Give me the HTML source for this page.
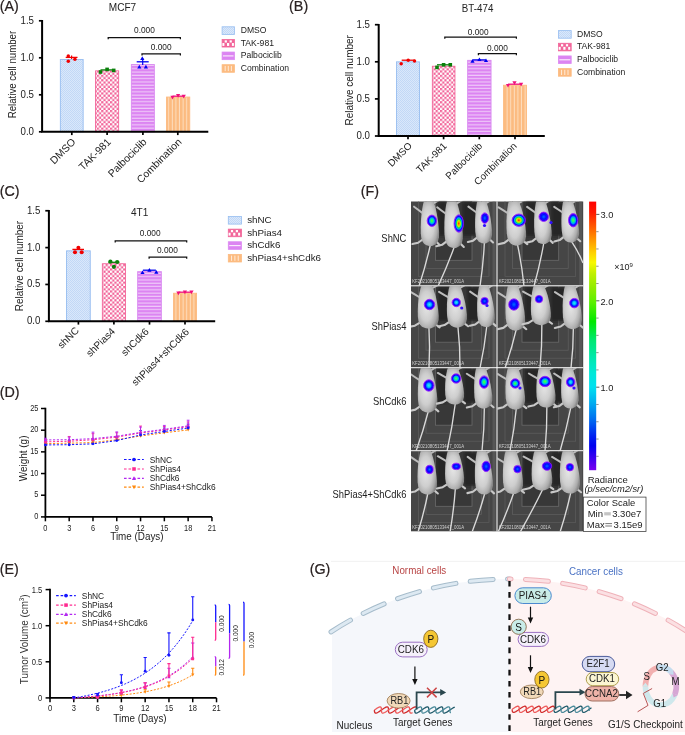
<!DOCTYPE html>
<html><head><meta charset="utf-8"><style>html,body{margin:0;padding:0;background:#fff;width:685px;height:735px;overflow:hidden}svg{display:block;will-change:transform}</style></head><body>
<svg width="685" height="735" viewBox="0 0 685 735" font-family='"Liberation Sans", sans-serif'>

<defs>
<pattern id="pD" width="2" height="2" patternUnits="userSpaceOnUse">
  <rect width="2" height="2" fill="#dae8fb"/><rect width="1" height="1" fill="#c2d8f6"/><rect x="1" y="1" width="1" height="1" fill="#c2d8f6"/>
</pattern>
<pattern id="pT" width="4.4" height="4.4" patternUnits="userSpaceOnUse">
  <rect width="4.4" height="4.4" fill="#fff"/><rect width="2.2" height="2.2" fill="#f2669a"/><rect x="2.2" y="2.2" width="2.2" height="2.2" fill="#f2669a"/>
</pattern>
<pattern id="pP" width="4" height="3.3" patternUnits="userSpaceOnUse">
  <rect width="4" height="3.3" fill="#dc84f2"/><rect y="2.2" width="4" height="1" fill="#f2d4fa"/>
</pattern>
<pattern id="pC" width="3.6" height="4" patternUnits="userSpaceOnUse">
  <rect width="3.6" height="4" fill="#fcbb80"/><rect x="2.6" width="0.9" height="4" fill="#fee2c6"/>
</pattern>
<linearGradient id="cbar" x1="0" y1="0" x2="0" y2="1">
  <stop offset="0" stop-color="#ff0000"/>
  <stop offset="0.039" stop-color="#ff1800"/>
  <stop offset="0.086" stop-color="#ff5000"/>
  <stop offset="0.145" stop-color="#ff9a00"/>
  <stop offset="0.19" stop-color="#ffd000"/>
  <stop offset="0.227" stop-color="#f8f800"/>
  <stop offset="0.268" stop-color="#c0f000"/>
  <stop offset="0.322" stop-color="#90ec00"/>
  <stop offset="0.37" stop-color="#60f000"/>
  <stop offset="0.447" stop-color="#00e800"/>
  <stop offset="0.515" stop-color="#00e870"/>
  <stop offset="0.584" stop-color="#00e8b0"/>
  <stop offset="0.638" stop-color="#00e8d8"/>
  <stop offset="0.691" stop-color="#00e0f0"/>
  <stop offset="0.746" stop-color="#00b0f0"/>
  <stop offset="0.808" stop-color="#0070f0"/>
  <stop offset="0.873" stop-color="#0020f0"/>
  <stop offset="0.909" stop-color="#0000f0"/>
  <stop offset="0.97" stop-color="#5000f0"/>
  <stop offset="1" stop-color="#7a00f0"/>
</linearGradient>
<radialGradient id="blobg">
  <stop offset="0" stop-color="#60ff20"/>
  <stop offset="0.3" stop-color="#00f0a0"/>
  <stop offset="0.5" stop-color="#00a0ff"/>
  <stop offset="0.72" stop-color="#0010ff"/>
  <stop offset="0.9" stop-color="#5000ff"/>
  <stop offset="1" stop-color="#7a00ff" stop-opacity="0.85"/>
</radialGradient>
<radialGradient id="blobc">
  <stop offset="0" stop-color="#30f0e0"/>
  <stop offset="0.35" stop-color="#00b8ff"/>
  <stop offset="0.65" stop-color="#0010ff"/>
  <stop offset="0.88" stop-color="#4000ff"/>
  <stop offset="1" stop-color="#7a00ff" stop-opacity="0.85"/>
</radialGradient>
<radialGradient id="blobb">
  <stop offset="0" stop-color="#0070ff"/>
  <stop offset="0.5" stop-color="#0010ff"/>
  <stop offset="0.85" stop-color="#3000ff"/>
  <stop offset="1" stop-color="#7000ff" stop-opacity="0.85"/>
</radialGradient>
<radialGradient id="blobr">
  <stop offset="0" stop-color="#ff1000"/>
  <stop offset="0.18" stop-color="#ffa000"/>
  <stop offset="0.35" stop-color="#c0f000"/>
  <stop offset="0.5" stop-color="#00e060"/>
  <stop offset="0.65" stop-color="#00a0ff"/>
  <stop offset="0.8" stop-color="#0010ff"/>
  <stop offset="1" stop-color="#7000ff" stop-opacity="0.85"/>
</radialGradient>
<radialGradient id="mouseg" cx="0.42" cy="0.5" r="0.6">
  <stop offset="0" stop-color="#e6e6e6"/>
  <stop offset="0.55" stop-color="#cecece"/>
  <stop offset="0.85" stop-color="#ababab"/>
  <stop offset="1" stop-color="#8a8a8a"/>
</radialGradient>
<filter id="soft" x="-20%" y="-20%" width="140%" height="140%"><feGaussianBlur stdDeviation="0.6"/></filter>
<filter id="soft2" x="-20%" y="-20%" width="140%" height="140%"><feGaussianBlur stdDeviation="0.8"/></filter>
</defs>

<rect width="685" height="735" fill="#fff"/>
<text transform="translate(-0.3,10.7) scale(0.96,1)" font-size="14.9" text-anchor="start" fill="#2a2222" stroke="#2a2222" stroke-width="0.22">(A)</text>
<text transform="translate(289.1,10.6) scale(0.96,1)" font-size="14.9" text-anchor="start" fill="#2a2222" stroke="#2a2222" stroke-width="0.22">(B)</text>
<text transform="translate(-0.3,195.5) scale(0.96,1)" font-size="14.9" text-anchor="start" fill="#2a2222" stroke="#2a2222" stroke-width="0.22">(C)</text>
<text transform="translate(-0.3,397.4) scale(0.96,1)" font-size="14.9" text-anchor="start" fill="#2a2222" stroke="#2a2222" stroke-width="0.22">(D)</text>
<text transform="translate(-0.3,573.8) scale(0.96,1)" font-size="14.9" text-anchor="start" fill="#2a2222" stroke="#2a2222" stroke-width="0.22">(E)</text>
<text transform="translate(360.85,195.7) scale(0.96,1)" font-size="14.9" text-anchor="start" fill="#2a2222" stroke="#2a2222" stroke-width="0.22">(F)</text>
<text transform="translate(309.7,573.7) scale(0.96,1)" font-size="14.9" text-anchor="start" fill="#2a2222" stroke="#2a2222" stroke-width="0.22">(G)</text>
<rect x="60.35" y="59.45" width="22.80" height="72.35" fill="url(#pD)" stroke="#96bdf0" stroke-width="0.9"/>
<rect x="95.55" y="70.85" width="23.10" height="60.95" fill="url(#pT)" stroke="#f2669a" stroke-width="0.9"/>
<rect x="131.35" y="64.55" width="23.00" height="67.25" fill="url(#pP)" stroke="#d98af0" stroke-width="0.9"/>
<rect x="166.55" y="97.05" width="23.20" height="34.75" fill="url(#pC)" stroke="#fcbb80" stroke-width="0.9"/>
<path d="M42.1 20.00V131.8H208.3" fill="none" stroke="#000" stroke-width="2"/>
<line x1="38.9" y1="131.80" x2="42.1" y2="131.80" stroke="#000" stroke-width="1.7"/>
<text transform="translate(34.0,134.7) scale(0.915,1)" font-size="10.6" text-anchor="end" fill="#222" >0.0</text>
<line x1="38.9" y1="94.80" x2="42.1" y2="94.80" stroke="#000" stroke-width="1.7"/>
<text transform="translate(34.0,97.7) scale(0.915,1)" font-size="10.6" text-anchor="end" fill="#222" >0.5</text>
<line x1="38.9" y1="57.80" x2="42.1" y2="57.80" stroke="#000" stroke-width="1.7"/>
<text transform="translate(34.0,60.7) scale(0.915,1)" font-size="10.6" text-anchor="end" fill="#222" >1.0</text>
<line x1="38.9" y1="20.80" x2="42.1" y2="20.80" stroke="#000" stroke-width="1.7"/>
<text transform="translate(34.0,23.7) scale(0.915,1)" font-size="10.6" text-anchor="end" fill="#222" >1.5</text>
<line x1="71.8" y1="131.8" x2="71.8" y2="135.10000000000002" stroke="#000" stroke-width="1.7"/>
<line x1="107.1" y1="131.8" x2="107.1" y2="135.10000000000002" stroke="#000" stroke-width="1.7"/>
<line x1="142.9" y1="131.8" x2="142.9" y2="135.10000000000002" stroke="#000" stroke-width="1.7"/>
<line x1="177.8" y1="131.8" x2="177.8" y2="135.10000000000002" stroke="#000" stroke-width="1.7"/>
<text transform="translate(15.8,74.55) rotate(-90) scale(0.92,1)" font-size="10.5" text-anchor="middle" fill="#222" >Relative cell number</text>
<text transform="translate(122.45,10.8) scale(0.9,1)" font-size="11.2" text-anchor="middle" fill="#222" >MCF7</text>
<path d="M108.2 39.2V37.6H180.4V39.2" fill="none" stroke="#111" stroke-width="1.25"/>
<text transform="translate(144.45,32.7) scale(0.85,1)" font-size="9.8" text-anchor="middle" fill="#222" >0.000</text>
<path d="M142 55.4V53.8H180.4V55.4" fill="none" stroke="#111" stroke-width="1.25"/>
<text transform="translate(161.2,50.0) scale(0.85,1)" font-size="9.8" text-anchor="middle" fill="#222" >0.000</text>
<text transform="translate(76.3,142.6) rotate(-45)" font-size="10.4" text-anchor="end" fill="#222" >DMSO</text>
<text transform="translate(111.5,142.6) rotate(-45)" font-size="10.4" text-anchor="end" fill="#222" >TAK-981</text>
<text transform="translate(147.3,142.6) rotate(-45)" font-size="10.4" text-anchor="end" fill="#222" >Palbociclib</text>
<text transform="translate(182.3,142.6) rotate(-45)" font-size="10.4" text-anchor="end" fill="#222" >Combination</text>
<line x1="71.6" y1="55.5" x2="71.6" y2="59" stroke="#f00000" stroke-width="1.2"/>
<line x1="65.69999999999999" y1="57.4" x2="77.5" y2="57.4" stroke="#f00000" stroke-width="1.3"/>
<circle cx="68.3" cy="56.1" r="1.75" fill="#f00000"/>
<circle cx="68.3" cy="61.2" r="1.75" fill="#f00000"/>
<circle cx="74.9" cy="59.2" r="1.75" fill="#f00000"/>
<line x1="100.5" y1="69.9" x2="113.69999999999999" y2="69.9" stroke="#0a800a" stroke-width="1.3"/>
<rect x="98.70" y="70.20" width="3.60" height="3.60" fill="#0a800a"/>
<rect x="105.30" y="67.60" width="3.60" height="3.60" fill="#0a800a"/>
<rect x="111.90" y="68.60" width="3.60" height="3.60" fill="#0a800a"/>
<line x1="142.7" y1="58" x2="142.7" y2="65" stroke="#0000f0" stroke-width="1.2"/>
<line x1="136.7" y1="61.8" x2="148.7" y2="61.8" stroke="#0000f0" stroke-width="1.3"/>
<path d="M139.3 64.80L141.40 68.48H137.20Z" fill="#0000f0"/>
<path d="M145.9 64.80L148.00 68.48H143.80Z" fill="#0000f0"/>
<path d="M142.3 56.30L144.40 59.98H140.20Z" fill="#0000f0"/>
<line x1="172.5" y1="96.2" x2="183.7" y2="96.2" stroke="#f0107a" stroke-width="1.3"/>
<path d="M172.5 99.40L174.60 95.72H170.40Z" fill="#f0107a"/>
<path d="M178.1 97.80L180.20 94.12H176.00Z" fill="#f0107a"/>
<path d="M183.7 98.40L185.80 94.72H181.60Z" fill="#f0107a"/>
<rect x="222.1" y="26.799999999999997" width="12.299999999999999" height="7.6000000000000005" fill="url(#pD)" stroke="#96bdf0" stroke-width="0.8"/>
<text x="240.7" y="33.2" font-size="8.6" text-anchor="start" fill="#222" >DMSO</text>
<rect x="222.1" y="39.43" width="12.299999999999999" height="7.6000000000000005" fill="#f2669a" stroke="#f2669a" stroke-width="0.8"/>
<rect x="224.70" y="40.33" width="2.20" height="2.20" fill="#fff"/>
<rect x="229.60" y="40.33" width="2.20" height="2.20" fill="#fff"/>
<rect x="222.40" y="43.03" width="2.00" height="2.90" fill="#fff"/>
<rect x="227.00" y="43.03" width="2.20" height="2.90" fill="#fff"/>
<rect x="231.90" y="43.03" width="2.00" height="2.90" fill="#fff"/>
<text x="240.7" y="45.83" font-size="8.6" text-anchor="start" fill="#222" >TAK-981</text>
<rect x="222.1" y="52.059999999999995" width="12.299999999999999" height="7.6000000000000005" fill="#dc84f2" stroke="#dc8af2" stroke-width="0.8"/>
<rect x="223.0" y="55.36" width="10.50" height="1.1" fill="#fbf0fd"/>
<text x="240.7" y="58.46" font-size="8.6" text-anchor="start" fill="#222" >Palbociclib</text>
<rect x="222.1" y="64.69" width="12.299999999999999" height="7.6000000000000005" fill="#fcbb80" stroke="#fcbb80" stroke-width="0.8"/>
<rect x="224.72" y="65.89" width="0.9" height="5.20" fill="#fff0e2"/>
<rect x="227.80" y="65.89" width="0.9" height="5.20" fill="#fff0e2"/>
<rect x="230.88" y="65.89" width="0.9" height="5.20" fill="#fff0e2"/>
<text x="240.7" y="71.09" font-size="8.6" text-anchor="start" fill="#222" >Combination</text>
<rect x="396.55" y="61.85" width="22.90" height="74.15" fill="url(#pD)" stroke="#96bdf0" stroke-width="0.9"/>
<rect x="432.35" y="66.25" width="22.60" height="69.75" fill="url(#pT)" stroke="#f2669a" stroke-width="0.9"/>
<rect x="467.65" y="60.35" width="23.40" height="75.65" fill="url(#pP)" stroke="#d98af0" stroke-width="0.9"/>
<rect x="503.55" y="85.25" width="23.00" height="50.75" fill="url(#pC)" stroke="#fcbb80" stroke-width="0.9"/>
<path d="M378.7 23.90V136.0H544.8" fill="none" stroke="#000" stroke-width="2"/>
<line x1="374.9" y1="136.00" x2="378.7" y2="136.00" stroke="#000" stroke-width="1.7"/>
<text transform="translate(370.0,138.9) scale(0.915,1)" font-size="10.6" text-anchor="end" fill="#222" >0.0</text>
<line x1="374.9" y1="98.90" x2="378.7" y2="98.90" stroke="#000" stroke-width="1.7"/>
<text transform="translate(370.0,101.8) scale(0.915,1)" font-size="10.6" text-anchor="end" fill="#222" >0.5</text>
<line x1="374.9" y1="61.80" x2="378.7" y2="61.80" stroke="#000" stroke-width="1.7"/>
<text transform="translate(370.0,64.7) scale(0.915,1)" font-size="10.6" text-anchor="end" fill="#222" >1.0</text>
<line x1="374.9" y1="24.70" x2="378.7" y2="24.70" stroke="#000" stroke-width="1.7"/>
<text transform="translate(370.0,27.6) scale(0.915,1)" font-size="10.6" text-anchor="end" fill="#222" >1.5</text>
<line x1="408" y1="136.0" x2="408" y2="139.3" stroke="#000" stroke-width="1.7"/>
<line x1="443.6" y1="136.0" x2="443.6" y2="139.3" stroke="#000" stroke-width="1.7"/>
<line x1="479.3" y1="136.0" x2="479.3" y2="139.3" stroke="#000" stroke-width="1.7"/>
<line x1="515.0" y1="136.0" x2="515.0" y2="139.3" stroke="#000" stroke-width="1.7"/>
<text transform="translate(353.3,80.3) rotate(-90) scale(0.95,1)" font-size="10.5" text-anchor="middle" fill="#222" >Relative cell number</text>
<text transform="translate(477.6,12.4) scale(0.95,1)" font-size="10.3" text-anchor="middle" fill="#222" >BT-474</text>
<path d="M444.8 38.7V37.1H516.4V38.7" fill="none" stroke="#111" stroke-width="1.25"/>
<text transform="translate(478.2,34.6) scale(0.85,1)" font-size="9.8" text-anchor="middle" fill="#222" >0.000</text>
<path d="M478.4 55.300000000000004V53.7H516.4V55.300000000000004" fill="none" stroke="#111" stroke-width="1.25"/>
<text transform="translate(497.4,51.2) scale(0.85,1)" font-size="9.8" text-anchor="middle" fill="#222" >0.000</text>
<text transform="translate(412.6,146.4) rotate(-45)" font-size="9.9" text-anchor="end" fill="#222" >DMSO</text>
<text transform="translate(447.3,146.5) rotate(-45)" font-size="9.9" text-anchor="end" fill="#222" >TAK-981</text>
<text transform="translate(483,146.5) rotate(-45)" font-size="9.9" text-anchor="end" fill="#222" >Palbociclib</text>
<text transform="translate(517.3,146.5) rotate(-45)" font-size="9.9" text-anchor="end" fill="#222" >Combination</text>
<line x1="401.7" y1="60.2" x2="414.7" y2="60.2" stroke="#f00000" stroke-width="1.3"/>
<circle cx="401.2" cy="63.8" r="1.75" fill="#f00000"/>
<circle cx="408.2" cy="60.2" r="1.75" fill="#f00000"/>
<circle cx="414.5" cy="60.9" r="1.75" fill="#f00000"/>
<line x1="437.0" y1="64.8" x2="450.20000000000005" y2="64.8" stroke="#0a800a" stroke-width="1.3"/>
<rect x="435.20" y="65.60" width="3.60" height="3.60" fill="#0a800a"/>
<rect x="441.80" y="63.00" width="3.60" height="3.60" fill="#0a800a"/>
<rect x="448.50" y="63.00" width="3.60" height="3.60" fill="#0a800a"/>
<line x1="472.8" y1="59.9" x2="485.8" y2="59.9" stroke="#0000f0" stroke-width="1.3"/>
<path d="M472.5 59.10L474.60 62.78H470.40Z" fill="#0000f0"/>
<path d="M479.4 57.40L481.50 61.08H477.30Z" fill="#0000f0"/>
<path d="M486 58.40L488.10 62.08H483.90Z" fill="#0000f0"/>
<line x1="508.1" y1="84.2" x2="521.1" y2="84.2" stroke="#f0107a" stroke-width="1.3"/>
<path d="M508 87.60L510.10 83.92H505.90Z" fill="#f0107a"/>
<path d="M514.5 84.90L516.60 81.22H512.40Z" fill="#f0107a"/>
<path d="M521.1 86.50L523.20 82.83H519.00Z" fill="#f0107a"/>
<rect x="558.4" y="30.599999999999998" width="12.799999999999999" height="7.6000000000000005" fill="url(#pD)" stroke="#96bdf0" stroke-width="0.8"/>
<text x="577" y="36.8" font-size="8.6" text-anchor="start" fill="#222" >DMSO</text>
<rect x="558.4" y="43.269999999999996" width="12.799999999999999" height="7.6000000000000005" fill="#f2669a" stroke="#f2669a" stroke-width="0.8"/>
<rect x="561.00" y="44.17" width="2.20" height="2.20" fill="#fff"/>
<rect x="565.90" y="44.17" width="2.20" height="2.20" fill="#fff"/>
<rect x="558.70" y="46.87" width="2.00" height="2.90" fill="#fff"/>
<rect x="563.30" y="46.87" width="2.20" height="2.90" fill="#fff"/>
<rect x="568.20" y="46.87" width="2.00" height="2.90" fill="#fff"/>
<text x="577" y="49.47" font-size="8.6" text-anchor="start" fill="#222" >TAK-981</text>
<rect x="558.4" y="55.94" width="12.799999999999999" height="7.6000000000000005" fill="#dc84f2" stroke="#dc8af2" stroke-width="0.8"/>
<rect x="559.3" y="59.24" width="11.00" height="1.1" fill="#fbf0fd"/>
<text x="577" y="62.14" font-size="8.6" text-anchor="start" fill="#222" >Palbociclib</text>
<rect x="558.4" y="68.61" width="12.799999999999999" height="7.6000000000000005" fill="#fcbb80" stroke="#fcbb80" stroke-width="0.8"/>
<rect x="561.15" y="69.81" width="0.9" height="5.20" fill="#fff0e2"/>
<rect x="564.35" y="69.81" width="0.9" height="5.20" fill="#fff0e2"/>
<rect x="567.55" y="69.81" width="0.9" height="5.20" fill="#fff0e2"/>
<text x="577" y="74.81" font-size="8.6" text-anchor="start" fill="#222" >Combination</text>
<rect x="66.55" y="250.85" width="23.70" height="70.45" fill="url(#pD)" stroke="#96bdf0" stroke-width="0.9"/>
<rect x="102.35" y="263.75" width="23.10" height="57.55" fill="url(#pT)" stroke="#f2669a" stroke-width="0.9"/>
<rect x="137.65" y="271.65" width="23.70" height="49.65" fill="url(#pP)" stroke="#d98af0" stroke-width="0.9"/>
<rect x="173.55" y="293.25" width="23.00" height="28.05" fill="url(#pC)" stroke="#fcbb80" stroke-width="0.9"/>
<path d="M48.9 209.95V321.3H215.2" fill="none" stroke="#000" stroke-width="2"/>
<line x1="45.3" y1="321.30" x2="48.9" y2="321.30" stroke="#000" stroke-width="1.7"/>
<text transform="translate(40.4,324.2) scale(0.915,1)" font-size="10.6" text-anchor="end" fill="#222" >0.0</text>
<line x1="45.3" y1="284.45" x2="48.9" y2="284.45" stroke="#000" stroke-width="1.7"/>
<text transform="translate(40.4,287.35) scale(0.915,1)" font-size="10.6" text-anchor="end" fill="#222" >0.5</text>
<line x1="45.3" y1="247.60" x2="48.9" y2="247.60" stroke="#000" stroke-width="1.7"/>
<text transform="translate(40.4,250.5) scale(0.915,1)" font-size="10.6" text-anchor="end" fill="#222" >1.0</text>
<line x1="45.3" y1="210.75" x2="48.9" y2="210.75" stroke="#000" stroke-width="1.7"/>
<text transform="translate(40.4,213.65) scale(0.915,1)" font-size="10.6" text-anchor="end" fill="#222" >1.5</text>
<line x1="78.4" y1="321.3" x2="78.4" y2="324.6" stroke="#000" stroke-width="1.7"/>
<line x1="113.9" y1="321.3" x2="113.9" y2="324.6" stroke="#000" stroke-width="1.7"/>
<line x1="149.5" y1="321.3" x2="149.5" y2="324.6" stroke="#000" stroke-width="1.7"/>
<line x1="185.0" y1="321.3" x2="185.0" y2="324.6" stroke="#000" stroke-width="1.7"/>
<text transform="translate(22.6,266.0) rotate(-90) scale(0.95,1)" font-size="10.5" text-anchor="middle" fill="#222" >Relative cell number</text>
<text transform="translate(139.7,215.7) scale(0.9,1)" font-size="11.2" text-anchor="middle" fill="#222" >4T1</text>
<path d="M115.2 242.5V240.9H186.7V242.5" fill="none" stroke="#111" stroke-width="1.25"/>
<text transform="translate(150.1,236.1) scale(0.85,1)" font-size="9.8" text-anchor="middle" fill="#222" >0.000</text>
<path d="M149.1 258.8V257.2H186.7V258.8" fill="none" stroke="#111" stroke-width="1.25"/>
<text transform="translate(167.4,253.4) scale(0.85,1)" font-size="9.8" text-anchor="middle" fill="#222" >0.000</text>
<text transform="translate(79.6,331.2) rotate(-45)" font-size="10.1" text-anchor="end" fill="#222" >shNC</text>
<text transform="translate(115.7,331.9) rotate(-45)" font-size="10.1" text-anchor="end" fill="#222" >shPias4</text>
<text transform="translate(149.4,332.2) rotate(-45)" font-size="10.1" text-anchor="end" fill="#222" >shCdk6</text>
<text transform="translate(189.6,332.5) rotate(-45)" font-size="10.1" text-anchor="end" fill="#222" >shPias4+shCdk6</text>
<line x1="72.4" y1="249.4" x2="84.0" y2="249.4" stroke="#f00000" stroke-width="1.3"/>
<circle cx="78.4" cy="247.7" r="2.01" fill="#f00000"/>
<circle cx="75" cy="252.3" r="2.01" fill="#f00000"/>
<circle cx="81.7" cy="252.3" r="2.01" fill="#f00000"/>
<line x1="108.4" y1="262.3" x2="119.4" y2="262.3" stroke="#0a800a" stroke-width="1.3"/>
<circle cx="110.4" cy="261.7" r="2.10" fill="#0a800a"/>
<circle cx="117.2" cy="262" r="2.10" fill="#0a800a"/>
<circle cx="113.9" cy="266.8" r="2.10" fill="#0a800a"/>
<line x1="142.9" y1="270.2" x2="155.9" y2="270.2" stroke="#0000f0" stroke-width="1.3"/>
<path d="M142.5 270.40L144.60 274.07H140.40Z" fill="#0000f0"/>
<path d="M149.4 268.10L151.50 271.77H147.30Z" fill="#0000f0"/>
<path d="M156.3 270.00L158.40 273.68H154.20Z" fill="#0000f0"/>
<line x1="178.4" y1="292.2" x2="191.4" y2="292.2" stroke="#f0107a" stroke-width="1.3"/>
<path d="M178.4 295.20L180.50 291.53H176.30Z" fill="#f0107a"/>
<path d="M184.9 294.30L187.00 290.62H182.80Z" fill="#f0107a"/>
<path d="M191.5 294.30L193.60 290.62H189.40Z" fill="#f0107a"/>
<rect x="228.3" y="216.5" width="13.2" height="7.6000000000000005" fill="url(#pD)" stroke="#96bdf0" stroke-width="0.8"/>
<text x="247.2" y="222.9" font-size="9.8" text-anchor="start" fill="#222" >shNC</text>
<rect x="228.3" y="229.13" width="13.2" height="7.6000000000000005" fill="#f2669a" stroke="#f2669a" stroke-width="0.8"/>
<rect x="230.90" y="230.03" width="2.20" height="2.20" fill="#fff"/>
<rect x="235.80" y="230.03" width="2.20" height="2.20" fill="#fff"/>
<rect x="228.60" y="232.73" width="2.00" height="2.90" fill="#fff"/>
<rect x="233.20" y="232.73" width="2.20" height="2.90" fill="#fff"/>
<rect x="238.10" y="232.73" width="2.00" height="2.90" fill="#fff"/>
<text x="247.2" y="235.53" font-size="9.8" text-anchor="start" fill="#222" >shPias4</text>
<rect x="228.3" y="241.76" width="13.2" height="7.6000000000000005" fill="#dc84f2" stroke="#dc8af2" stroke-width="0.8"/>
<rect x="229.20000000000002" y="245.06" width="11.40" height="1.1" fill="#fbf0fd"/>
<text x="247.2" y="248.16" font-size="9.8" text-anchor="start" fill="#222" >shCdk6</text>
<rect x="228.3" y="254.39000000000001" width="13.2" height="7.6000000000000005" fill="#fcbb80" stroke="#fcbb80" stroke-width="0.8"/>
<rect x="231.15" y="255.59" width="0.9" height="5.20" fill="#fff0e2"/>
<rect x="234.45" y="255.59" width="0.9" height="5.20" fill="#fff0e2"/>
<rect x="237.75" y="255.59" width="0.9" height="5.20" fill="#fff0e2"/>
<text x="247.2" y="260.79" font-size="9.8" text-anchor="start" fill="#222" >shPias4+shCdk6</text>
<path d="M45.4 407.70V516.9H211.93" fill="none" stroke="#000" stroke-width="1.8"/>
<line x1="41.0" y1="516.90" x2="45.4" y2="516.90" stroke="#000" stroke-width="1.5"/>
<text transform="translate(38.4,519.4) scale(0.88,1)" font-size="8.4" text-anchor="end" fill="#222" >0</text>
<line x1="41.0" y1="495.22" x2="45.4" y2="495.22" stroke="#000" stroke-width="1.5"/>
<text transform="translate(38.4,497.32) scale(0.88,1)" font-size="8.4" text-anchor="end" fill="#222" >5</text>
<line x1="41.0" y1="473.54" x2="45.4" y2="473.54" stroke="#000" stroke-width="1.5"/>
<text transform="translate(38.4,475.64) scale(0.88,1)" font-size="8.4" text-anchor="end" fill="#222" >10</text>
<line x1="41.0" y1="451.86" x2="45.4" y2="451.86" stroke="#000" stroke-width="1.5"/>
<text transform="translate(38.4,453.96) scale(0.88,1)" font-size="8.4" text-anchor="end" fill="#222" >15</text>
<line x1="41.0" y1="430.18" x2="45.4" y2="430.18" stroke="#000" stroke-width="1.5"/>
<text transform="translate(38.4,432.28) scale(0.88,1)" font-size="8.4" text-anchor="end" fill="#222" >20</text>
<line x1="41.0" y1="408.50" x2="45.4" y2="408.50" stroke="#000" stroke-width="1.5"/>
<text transform="translate(38.4,410.6) scale(0.88,1)" font-size="8.4" text-anchor="end" fill="#222" >25</text>
<line x1="45.40" y1="516.9" x2="45.40" y2="521.3" stroke="#000" stroke-width="1.5"/>
<text transform="translate(45.4,531.2) scale(0.88,1)" font-size="8.4" text-anchor="middle" fill="#222" >0</text>
<line x1="69.19" y1="516.9" x2="69.19" y2="521.3" stroke="#000" stroke-width="1.5"/>
<text transform="translate(69.19,531.2) scale(0.88,1)" font-size="8.4" text-anchor="middle" fill="#222" >3</text>
<line x1="92.98" y1="516.9" x2="92.98" y2="521.3" stroke="#000" stroke-width="1.5"/>
<text transform="translate(92.98,531.2) scale(0.88,1)" font-size="8.4" text-anchor="middle" fill="#222" >6</text>
<line x1="116.77" y1="516.9" x2="116.77" y2="521.3" stroke="#000" stroke-width="1.5"/>
<text transform="translate(116.77,531.2) scale(0.88,1)" font-size="8.4" text-anchor="middle" fill="#222" >9</text>
<line x1="140.56" y1="516.9" x2="140.56" y2="521.3" stroke="#000" stroke-width="1.5"/>
<text transform="translate(140.56,531.2) scale(0.88,1)" font-size="8.4" text-anchor="middle" fill="#222" >12</text>
<line x1="164.35" y1="516.9" x2="164.35" y2="521.3" stroke="#000" stroke-width="1.5"/>
<text transform="translate(164.35,531.2) scale(0.88,1)" font-size="8.4" text-anchor="middle" fill="#222" >15</text>
<line x1="188.14" y1="516.9" x2="188.14" y2="521.3" stroke="#000" stroke-width="1.5"/>
<text transform="translate(188.14,531.2) scale(0.88,1)" font-size="8.4" text-anchor="middle" fill="#222" >18</text>
<line x1="211.93" y1="516.9" x2="211.93" y2="521.3" stroke="#000" stroke-width="1.5"/>
<text transform="translate(211.93,531.2) scale(0.88,1)" font-size="8.4" text-anchor="middle" fill="#222" >21</text>
<text transform="translate(27.1,458.4) rotate(-90) scale(0.94,1)" font-size="10.6" text-anchor="middle" fill="#222" >Weight (g)</text>
<text transform="translate(136.9,540.3) scale(0.94,1)" font-size="10.5" text-anchor="middle" fill="#222" >Time (Days)</text>
<polyline points="45.40,443.62 69.19,443.19 92.98,442.54 116.77,439.72 140.56,436.03 164.35,432.78 188.14,429.92" fill="none" stroke="#ff8a10" stroke-width="1" stroke-dasharray="2.2 1.6"/>
<polyline points="45.40,444.92 69.19,444.71 92.98,443.84 116.77,440.59 140.56,434.95 164.35,431.48 188.14,428.01" fill="none" stroke="#1515ff" stroke-width="1" stroke-dasharray="2.2 1.6"/>
<polyline points="45.40,441.89 69.19,441.24 92.98,439.72 116.77,437.12 140.56,433.00 164.35,429.96 188.14,426.71" fill="none" stroke="#ff2a90" stroke-width="1" stroke-dasharray="2.2 1.6"/>
<polyline points="45.40,439.94 69.19,439.72 92.98,438.64 116.77,436.25 140.56,432.35 164.35,429.31 188.14,425.84" fill="none" stroke="#b226f0" stroke-width="1" stroke-dasharray="2.2 1.6"/>
<path d="M45.40 443.62V441.89M44.00 441.89H46.80" stroke="#ff8a10" stroke-width="0.9" fill="none"/>
<path d="M69.19 443.19V441.02M67.79 441.02H70.59" stroke="#ff8a10" stroke-width="0.9" fill="none"/>
<path d="M92.98 442.54V439.94M91.58 439.94H94.38" stroke="#ff8a10" stroke-width="0.9" fill="none"/>
<path d="M116.77 439.72V437.12M115.37 437.12H118.17" stroke="#ff8a10" stroke-width="0.9" fill="none"/>
<path d="M140.56 436.03V432.56M139.16 432.56H141.96" stroke="#ff8a10" stroke-width="0.9" fill="none"/>
<path d="M164.35 432.78V430.18M162.95 430.18H165.75" stroke="#ff8a10" stroke-width="0.9" fill="none"/>
<path d="M188.14 429.92V426.88M186.74 426.88H189.54" stroke="#ff8a10" stroke-width="0.9" fill="none"/>
<path d="M45.40 444.92V442.75M44.00 442.75H46.80" stroke="#1515ff" stroke-width="0.9" fill="none"/>
<path d="M69.19 444.71V442.10M67.79 442.10H70.59" stroke="#1515ff" stroke-width="0.9" fill="none"/>
<path d="M92.98 443.84V440.80M91.58 440.80H94.38" stroke="#1515ff" stroke-width="0.9" fill="none"/>
<path d="M116.77 440.59V437.55M115.37 437.55H118.17" stroke="#1515ff" stroke-width="0.9" fill="none"/>
<path d="M140.56 434.95V430.61M139.16 430.61H141.96" stroke="#1515ff" stroke-width="0.9" fill="none"/>
<path d="M164.35 431.48V428.01M162.95 428.01H165.75" stroke="#1515ff" stroke-width="0.9" fill="none"/>
<path d="M188.14 428.01V424.11M186.74 424.11H189.54" stroke="#1515ff" stroke-width="0.9" fill="none"/>
<path d="M45.40 441.89V439.72M44.00 439.72H46.80" stroke="#ff2a90" stroke-width="0.9" fill="none"/>
<path d="M69.19 441.24V436.47M67.79 436.47H70.59" stroke="#ff2a90" stroke-width="0.9" fill="none"/>
<path d="M92.98 439.72V433.65M91.58 433.65H94.38" stroke="#ff2a90" stroke-width="0.9" fill="none"/>
<path d="M116.77 437.12V432.78M115.37 432.78H118.17" stroke="#ff2a90" stroke-width="0.9" fill="none"/>
<path d="M140.56 433.00V426.06M139.16 426.06H141.96" stroke="#ff2a90" stroke-width="0.9" fill="none"/>
<path d="M164.35 429.96V426.49M162.95 426.49H165.75" stroke="#ff2a90" stroke-width="0.9" fill="none"/>
<path d="M188.14 426.71V421.94M186.74 421.94H189.54" stroke="#ff2a90" stroke-width="0.9" fill="none"/>
<path d="M45.40 439.94V438.20M44.00 438.20H46.80" stroke="#b226f0" stroke-width="0.9" fill="none"/>
<path d="M69.19 439.72V437.12M67.79 437.12H70.59" stroke="#b226f0" stroke-width="0.9" fill="none"/>
<path d="M92.98 438.64V432.13M91.58 432.13H94.38" stroke="#b226f0" stroke-width="0.9" fill="none"/>
<path d="M116.77 436.25V431.91M115.37 431.91H118.17" stroke="#b226f0" stroke-width="0.9" fill="none"/>
<path d="M140.56 432.35V427.14M139.16 427.14H141.96" stroke="#b226f0" stroke-width="0.9" fill="none"/>
<path d="M164.35 429.31V425.41M162.95 425.41H165.75" stroke="#b226f0" stroke-width="0.9" fill="none"/>
<path d="M188.14 425.84V420.21M186.74 420.21H189.54" stroke="#b226f0" stroke-width="0.9" fill="none"/>
<path d="M45.40 445.24L47.02 442.33H43.78Z" fill="#ff8a10"/>
<path d="M69.19 444.80L70.80 441.90H67.58Z" fill="#ff8a10"/>
<path d="M92.98 444.15L94.59 441.25H91.36Z" fill="#ff8a10"/>
<path d="M116.77 441.33L118.39 438.43H115.16Z" fill="#ff8a10"/>
<path d="M140.56 437.65L142.18 434.74H138.94Z" fill="#ff8a10"/>
<path d="M164.35 434.40L165.97 431.49H162.73Z" fill="#ff8a10"/>
<path d="M188.14 431.53L189.76 428.63H186.53Z" fill="#ff8a10"/>
<rect x="44.04" y="440.53" width="2.72" height="2.72" fill="#ff2a90"/>
<rect x="67.83" y="439.88" width="2.72" height="2.72" fill="#ff2a90"/>
<rect x="91.62" y="438.36" width="2.72" height="2.72" fill="#ff2a90"/>
<rect x="115.41" y="435.76" width="2.72" height="2.72" fill="#ff2a90"/>
<rect x="139.20" y="431.64" width="2.72" height="2.72" fill="#ff2a90"/>
<rect x="162.99" y="428.60" width="2.72" height="2.72" fill="#ff2a90"/>
<rect x="186.78" y="425.35" width="2.72" height="2.72" fill="#ff2a90"/>
<path d="M45.40 438.32L47.02 441.23H43.78Z" fill="#b226f0"/>
<path d="M69.19 438.10L70.80 441.01H67.58Z" fill="#b226f0"/>
<path d="M92.98 437.02L94.59 439.93H91.36Z" fill="#b226f0"/>
<path d="M116.77 434.64L118.39 437.54H115.16Z" fill="#b226f0"/>
<path d="M140.56 430.73L142.18 433.64H138.94Z" fill="#b226f0"/>
<path d="M164.35 427.70L165.97 430.60H162.73Z" fill="#b226f0"/>
<path d="M188.14 424.23L189.76 427.14H186.53Z" fill="#b226f0"/>
<circle cx="45.40" cy="444.92" r="1.44" fill="#1515ff"/>
<circle cx="69.19" cy="444.71" r="1.44" fill="#1515ff"/>
<circle cx="92.98" cy="443.84" r="1.44" fill="#1515ff"/>
<circle cx="116.77" cy="440.59" r="1.44" fill="#1515ff"/>
<circle cx="140.56" cy="434.95" r="1.44" fill="#1515ff"/>
<circle cx="164.35" cy="431.48" r="1.44" fill="#1515ff"/>
<circle cx="188.14" cy="428.01" r="1.44" fill="#1515ff"/>
<line x1="124" y1="459.5" x2="143.8" y2="459.5" stroke="#1515ff" stroke-width="1.2" stroke-dasharray="2.6 1.9"/>
<circle cx="134.00" cy="459.50" r="1.87" fill="#1515ff"/>
<text x="149.7" y="462.5" font-size="8.4" text-anchor="start" fill="#222" >ShNC</text>
<line x1="124" y1="469" x2="143.8" y2="469" stroke="#ff2a90" stroke-width="1.2" stroke-dasharray="2.6 1.9"/>
<rect x="132.24" y="467.24" width="3.52" height="3.52" fill="#ff2a90"/>
<text x="149.7" y="472" font-size="8.4" text-anchor="start" fill="#222" >ShPias4</text>
<line x1="124" y1="478.3" x2="143.8" y2="478.3" stroke="#b226f0" stroke-width="1.2" stroke-dasharray="2.6 1.9"/>
<path d="M134.00 476.21L136.09 479.97H131.91Z" fill="#b226f0"/>
<text x="149.7" y="481.3" font-size="8.4" text-anchor="start" fill="#222" >ShCdk6</text>
<line x1="124" y1="487.1" x2="143.8" y2="487.1" stroke="#ff8a10" stroke-width="1.2" stroke-dasharray="2.6 1.9"/>
<path d="M134.00 489.19L136.09 485.43H131.91Z" fill="#ff8a10"/>
<text x="149.7" y="490.1" font-size="8.4" text-anchor="start" fill="#222" >ShPias4+ShCdk6</text>
<path d="M50 588.80V697.9H216.53" fill="none" stroke="#000" stroke-width="1.8"/>
<line x1="45.6" y1="697.90" x2="50" y2="697.90" stroke="#000" stroke-width="1.5"/>
<text transform="translate(42.3,700.6) scale(0.9,1)" font-size="8.4" text-anchor="end" fill="#222" >0</text>
<line x1="45.6" y1="661.80" x2="50" y2="661.80" stroke="#000" stroke-width="1.5"/>
<text transform="translate(42.3,665.1) scale(0.9,1)" font-size="8.4" text-anchor="end" fill="#222" >0.5</text>
<line x1="45.6" y1="625.70" x2="50" y2="625.70" stroke="#000" stroke-width="1.5"/>
<text transform="translate(42.3,629.0) scale(0.9,1)" font-size="8.4" text-anchor="end" fill="#222" >1.0</text>
<line x1="45.6" y1="589.60" x2="50" y2="589.60" stroke="#000" stroke-width="1.5"/>
<text transform="translate(42.3,592.9) scale(0.9,1)" font-size="8.4" text-anchor="end" fill="#222" >1.5</text>
<line x1="50.00" y1="697.9" x2="50.00" y2="702.3" stroke="#000" stroke-width="1.5"/>
<text transform="translate(50.0,711.2) scale(0.9,1)" font-size="8.4" text-anchor="middle" fill="#222" >0</text>
<line x1="73.79" y1="697.9" x2="73.79" y2="702.3" stroke="#000" stroke-width="1.5"/>
<text transform="translate(73.79,711.2) scale(0.9,1)" font-size="8.4" text-anchor="middle" fill="#222" >3</text>
<line x1="97.58" y1="697.9" x2="97.58" y2="702.3" stroke="#000" stroke-width="1.5"/>
<text transform="translate(97.58,711.2) scale(0.9,1)" font-size="8.4" text-anchor="middle" fill="#222" >6</text>
<line x1="121.37" y1="697.9" x2="121.37" y2="702.3" stroke="#000" stroke-width="1.5"/>
<text transform="translate(121.37,711.2) scale(0.9,1)" font-size="8.4" text-anchor="middle" fill="#222" >9</text>
<line x1="145.16" y1="697.9" x2="145.16" y2="702.3" stroke="#000" stroke-width="1.5"/>
<text transform="translate(145.16,711.2) scale(0.9,1)" font-size="8.4" text-anchor="middle" fill="#222" >12</text>
<line x1="168.95" y1="697.9" x2="168.95" y2="702.3" stroke="#000" stroke-width="1.5"/>
<text transform="translate(168.95,711.2) scale(0.9,1)" font-size="8.4" text-anchor="middle" fill="#222" >15</text>
<line x1="192.74" y1="697.9" x2="192.74" y2="702.3" stroke="#000" stroke-width="1.5"/>
<text transform="translate(192.74,711.2) scale(0.9,1)" font-size="8.4" text-anchor="middle" fill="#222" >18</text>
<line x1="216.53" y1="697.9" x2="216.53" y2="702.3" stroke="#000" stroke-width="1.5"/>
<text transform="translate(216.53,711.2) scale(0.9,1)" font-size="8.4" text-anchor="middle" fill="#222" >21</text>
<text transform="translate(28.2,639.3) rotate(-90) scale(0.95,1)" font-size="10.4" text-anchor="middle" fill="#333">Tumor Volume (cm<tspan font-size="6.5" dy="-3.8">3</tspan><tspan dy="3.8">)</tspan></text>
<text transform="translate(140,722.3) scale(0.94,1)" font-size="10.5" text-anchor="middle" fill="#222" >Time (Days)</text>
<polyline points="73.79,697.90 77.75,697.77 81.72,697.63 85.69,697.48 89.65,697.30 93.61,697.11 97.58,696.90 101.55,696.67 105.51,696.42 109.47,696.13 113.44,695.82 117.41,695.47 121.37,695.09 125.33,694.67 129.30,694.20 133.26,693.69 137.23,693.11 141.19,692.48 145.16,691.79 149.12,691.02 153.09,690.17 157.06,689.22 161.02,688.19 164.99,687.04 168.95,685.77 172.91,684.36 176.88,682.81 180.84,681.10 184.81,679.20 188.78,677.11 192.74,674.80" fill="none" stroke="#ff8a10" stroke-width="1" stroke-dasharray="2 1.5"/>
<path d="M73.79 697.90V697.54M72.19 697.54H75.39" stroke="#ff8a10" stroke-width="1.1" fill="none"/>
<path d="M73.79 699.51L75.40 696.61H72.17Z" fill="#ff8a10"/>
<path d="M97.58 697.54V696.82M95.98 696.82H99.18" stroke="#ff8a10" stroke-width="1.1" fill="none"/>
<path d="M97.58 699.15L99.19 696.25H95.97Z" fill="#ff8a10"/>
<path d="M121.37 695.73V694.29M119.77 694.29H122.97" stroke="#ff8a10" stroke-width="1.1" fill="none"/>
<path d="M121.37 697.35L122.98 694.44H119.76Z" fill="#ff8a10"/>
<path d="M145.16 692.12V689.24M143.56 689.24H146.76" stroke="#ff8a10" stroke-width="1.1" fill="none"/>
<path d="M145.16 693.74L146.78 690.83H143.54Z" fill="#ff8a10"/>
<path d="M168.95 686.35V682.02M167.35 682.02H170.55" stroke="#ff8a10" stroke-width="1.1" fill="none"/>
<path d="M168.95 687.96L170.56 685.06H167.33Z" fill="#ff8a10"/>
<path d="M192.74 674.80V668.30M191.14 668.30H194.34" stroke="#ff8a10" stroke-width="1.1" fill="none"/>
<path d="M192.74 676.41L194.36 673.50H191.12Z" fill="#ff8a10"/>
<polyline points="73.79,697.90 77.75,697.65 81.72,697.37 85.69,697.07 89.65,696.73 93.61,696.36 97.58,695.96 101.55,695.51 105.51,695.02 109.47,694.49 113.44,693.89 117.41,693.24 121.37,692.53 125.33,691.74 129.30,690.87 133.26,689.92 137.23,688.87 141.19,687.72 145.16,686.46 149.12,685.06 153.09,683.53 157.06,681.85 161.02,680.00 164.99,677.96 168.95,675.72 172.91,673.26 176.88,670.56 180.84,667.58 184.81,664.30 188.78,660.70 192.74,656.75" fill="none" stroke="#b226f0" stroke-width="1" stroke-dasharray="2 1.5"/>
<path d="M73.79 697.90V697.54M72.19 697.54H75.39" stroke="#b226f0" stroke-width="1.1" fill="none"/>
<path d="M73.79 696.28L75.40 699.19H72.17Z" fill="#b226f0"/>
<path d="M97.58 697.18V695.73M95.98 695.73H99.18" stroke="#b226f0" stroke-width="1.1" fill="none"/>
<path d="M97.58 695.56L99.19 698.47H95.97Z" fill="#b226f0"/>
<path d="M121.37 693.21V690.32M119.77 690.32H122.97" stroke="#b226f0" stroke-width="1.1" fill="none"/>
<path d="M121.37 691.59L122.98 694.50H119.76Z" fill="#b226f0"/>
<path d="M145.16 687.79V682.74M143.56 682.74H146.76" stroke="#b226f0" stroke-width="1.1" fill="none"/>
<path d="M145.16 686.18L146.78 689.08H143.54Z" fill="#b226f0"/>
<path d="M168.95 676.96V668.30M167.35 668.30H170.55" stroke="#b226f0" stroke-width="1.1" fill="none"/>
<path d="M168.95 675.35L170.56 678.25H167.33Z" fill="#b226f0"/>
<path d="M192.74 657.47V643.03M191.14 643.03H194.34" stroke="#b226f0" stroke-width="1.1" fill="none"/>
<path d="M192.74 655.85L194.36 658.76H191.12Z" fill="#b226f0"/>
<polyline points="73.79,697.90 77.75,697.66 81.72,697.39 85.69,697.10 89.65,696.77 93.61,696.42 97.58,696.03 101.55,695.60 105.51,695.12 109.47,694.61 113.44,694.03 117.41,693.41 121.37,692.71 125.33,691.96 129.30,691.12 133.26,690.20 137.23,689.19 141.19,688.08 145.16,686.86 149.12,685.51 153.09,684.04 157.06,682.41 161.02,680.63 164.99,678.66 168.95,676.50 172.91,674.13 176.88,671.51 180.84,668.64 184.81,665.48 188.78,662.01 192.74,658.19" fill="none" stroke="#ff2a90" stroke-width="1" stroke-dasharray="2 1.5"/>
<path d="M73.79 697.90V697.54M72.19 697.54H75.39" stroke="#ff2a90" stroke-width="1.1" fill="none"/>
<rect x="72.43" y="696.54" width="2.72" height="2.72" fill="#ff2a90"/>
<path d="M97.58 697.18V695.73M95.98 695.73H99.18" stroke="#ff2a90" stroke-width="1.1" fill="none"/>
<rect x="96.22" y="695.82" width="2.72" height="2.72" fill="#ff2a90"/>
<path d="M121.37 692.70V689.81M119.77 689.81H122.97" stroke="#ff2a90" stroke-width="1.1" fill="none"/>
<rect x="120.01" y="691.34" width="2.72" height="2.72" fill="#ff2a90"/>
<path d="M145.16 687.21V682.88M143.56 682.88H146.76" stroke="#ff2a90" stroke-width="1.1" fill="none"/>
<rect x="143.80" y="685.85" width="2.72" height="2.72" fill="#ff2a90"/>
<path d="M168.95 675.88V663.61M167.35 663.61H170.55" stroke="#ff2a90" stroke-width="1.1" fill="none"/>
<rect x="167.59" y="674.52" width="2.72" height="2.72" fill="#ff2a90"/>
<path d="M192.74 658.91V637.25M191.14 637.25H194.34" stroke="#ff2a90" stroke-width="1.1" fill="none"/>
<rect x="191.38" y="657.55" width="2.72" height="2.72" fill="#ff2a90"/>
<polyline points="73.79,697.90 77.75,697.26 81.72,696.56 85.69,695.81 89.65,694.99 93.61,694.11 97.58,693.15 101.55,692.11 105.51,690.99 109.47,689.77 113.44,688.45 117.41,687.03 121.37,685.48 125.33,683.80 129.30,681.99 133.26,680.02 137.23,677.89 141.19,675.58 145.16,673.08 149.12,670.37 153.09,667.43 157.06,664.25 161.02,660.81 164.99,657.08 168.95,653.03 172.91,648.66 176.88,643.91 180.84,638.77 184.81,633.21 188.78,627.18 192.74,620.65" fill="none" stroke="#1515ff" stroke-width="1" stroke-dasharray="2 1.5"/>
<path d="M73.79 697.54V696.82M72.19 696.82H75.39" stroke="#1515ff" stroke-width="1.1" fill="none"/>
<circle cx="73.79" cy="697.54" r="1.44" fill="#1515ff"/>
<path d="M97.58 695.01V693.57M95.98 693.57H99.18" stroke="#1515ff" stroke-width="1.1" fill="none"/>
<circle cx="97.58" cy="695.01" r="1.44" fill="#1515ff"/>
<path d="M121.37 682.74V674.80M119.77 674.80H122.97" stroke="#1515ff" stroke-width="1.1" fill="none"/>
<circle cx="121.37" cy="682.74" r="1.44" fill="#1515ff"/>
<path d="M145.16 671.19V657.47M143.56 657.47H146.76" stroke="#1515ff" stroke-width="1.1" fill="none"/>
<circle cx="145.16" cy="671.19" r="1.44" fill="#1515ff"/>
<path d="M168.95 655.30V632.92M167.35 632.92H170.55" stroke="#1515ff" stroke-width="1.1" fill="none"/>
<circle cx="168.95" cy="655.30" r="1.44" fill="#1515ff"/>
<path d="M192.74 619.92V596.82M191.14 596.82H194.34" stroke="#1515ff" stroke-width="1.1" fill="none"/>
<circle cx="192.74" cy="619.92" r="1.44" fill="#1515ff"/>
<line x1="56.1" y1="595.6" x2="75.8" y2="595.6" stroke="#1515ff" stroke-width="1.2" stroke-dasharray="2.6 1.9"/>
<circle cx="66.00" cy="595.60" r="1.87" fill="#1515ff"/>
<text x="81.8" y="598.6" font-size="8.4" text-anchor="start" fill="#222" >ShNC</text>
<line x1="56.1" y1="605.1" x2="75.8" y2="605.1" stroke="#ff2a90" stroke-width="1.2" stroke-dasharray="2.6 1.9"/>
<rect x="64.24" y="603.34" width="3.52" height="3.52" fill="#ff2a90"/>
<text x="81.8" y="608.1" font-size="8.4" text-anchor="start" fill="#222" >ShPias4</text>
<line x1="56.1" y1="614.3" x2="75.8" y2="614.3" stroke="#b226f0" stroke-width="1.2" stroke-dasharray="2.6 1.9"/>
<path d="M66.00 612.21L68.09 615.97H63.91Z" fill="#b226f0"/>
<text x="81.8" y="617.3" font-size="8.4" text-anchor="start" fill="#222" >ShCdk6</text>
<line x1="56.1" y1="623.2" x2="75.8" y2="623.2" stroke="#ff8a10" stroke-width="1.2" stroke-dasharray="2.6 1.9"/>
<path d="M66.00 625.29L68.09 621.53H63.91Z" fill="#ff8a10"/>
<text x="81.8" y="626.2" font-size="8.4" text-anchor="start" fill="#222" >ShPias4+ShCdk6</text>
<path d="M214.7 604.9Q215.7 604.9 215.7 605.9V622.3" stroke="#1515ff" stroke-width="1.3" fill="none"/>
<path d="M215.7 622.3V639.3Q215.7 640.3 214.7 640.3" stroke="#ff2a90" stroke-width="1.3" fill="none"/>
<text transform="translate(224.3,623.45) rotate(-90) scale(0.9,1)" font-size="7.3" text-anchor="middle" fill="#222" >0.000</text>
<path d="M214.7 656.6Q215.7 656.6 215.7 657.6V666.4" stroke="#b226f0" stroke-width="1.3" fill="none"/>
<path d="M215.7 666.4V674.2Q215.7 675.2 214.7 675.2" stroke="#ff8a10" stroke-width="1.3" fill="none"/>
<text transform="translate(224.0,667.3) rotate(-90) scale(0.9,1)" font-size="7.3" text-anchor="middle" fill="#222" >0.012</text>
<path d="M228.6 604.4Q229.6 604.4 229.6 605.4V633.2" stroke="#1515ff" stroke-width="1.3" fill="none"/>
<path d="M229.6 633.2V657.3Q229.6 658.3 228.6 658.3" stroke="#b226f0" stroke-width="1.3" fill="none"/>
<text transform="translate(237.9,633.35) rotate(-90) scale(0.9,1)" font-size="7.3" text-anchor="middle" fill="#222" >0.000</text>
<path d="M243.0 602.2Q244.0 602.2 244.0 603.2V641.4" stroke="#1515ff" stroke-width="1.3" fill="none"/>
<path d="M244.0 641.4V674.2Q244.0 675.2 243.0 675.2" stroke="#ff8a10" stroke-width="1.3" fill="none"/>
<text transform="translate(254.2,640.0) rotate(-90) scale(0.9,1)" font-size="7.3" text-anchor="middle" fill="#222" >0.000</text>
<rect x="411" y="201.5" width="172.20000000000005" height="329.79999999999995" fill="#464646"/>
<defs>
<clipPath id="t00"><rect x="411" y="201.5" width="85.5" height="83.80000000000001"/></clipPath>
<clipPath id="t01"><rect x="497.5" y="201.5" width="85.70000000000005" height="83.80000000000001"/></clipPath>
<clipPath id="t10"><rect x="411" y="286.3" width="85.5" height="80.89999999999998"/></clipPath>
<clipPath id="t11"><rect x="497.5" y="286.3" width="85.70000000000005" height="80.89999999999998"/></clipPath>
<clipPath id="t20"><rect x="411" y="368.2" width="85.5" height="82.0"/></clipPath>
<clipPath id="t21"><rect x="497.5" y="368.2" width="85.70000000000005" height="82.0"/></clipPath>
<clipPath id="t30"><rect x="411" y="451.2" width="85.5" height="80.09999999999997"/></clipPath>
<clipPath id="t31"><rect x="497.5" y="451.2" width="85.70000000000005" height="80.09999999999997"/></clipPath>
</defs>
<g clip-path="url(#t00)">
<rect x="418.5" y="196.5" width="70.5" height="79.80000000000001" fill="none" stroke="#5e5e5e" stroke-width="0.7"/>
<rect x="426" y="196.5" width="55.5" height="71.80000000000001" fill="none" stroke="#626262" stroke-width="0.7"/>
<rect x="435.5" y="196.5" width="36.5" height="63.80000000000001" fill="#383838" stroke="#6a6a6a" stroke-width="0.8"/>
<rect x="492.5" y="201.5" width="3" height="83.80000000000001" fill="#575757"/>
<text x="412.2" y="283.0" font-size="5.2" fill="#d0d0d0" textLength="52" lengthAdjust="spacingAndGlyphs">KF20210805133447_001A</text>
</g>
<g clip-path="url(#t01)">
<rect x="505.0" y="196.5" width="70.70000000000005" height="79.80000000000001" fill="none" stroke="#5e5e5e" stroke-width="0.7"/>
<rect x="512.5" y="196.5" width="55.700000000000045" height="71.80000000000001" fill="none" stroke="#626262" stroke-width="0.7"/>
<rect x="522.0" y="196.5" width="36.700000000000045" height="63.80000000000001" fill="#383838" stroke="#6a6a6a" stroke-width="0.8"/>
<rect x="579.2" y="201.5" width="3" height="83.80000000000001" fill="#575757"/>
<text x="498.7" y="283.0" font-size="5.2" fill="#d0d0d0" textLength="52" lengthAdjust="spacingAndGlyphs">KF20210805133447_001A</text>
</g>
<g clip-path="url(#t10)">
<rect x="418.5" y="281.3" width="70.5" height="76.89999999999998" fill="none" stroke="#5e5e5e" stroke-width="0.7"/>
<rect x="426" y="281.3" width="55.5" height="68.89999999999998" fill="none" stroke="#626262" stroke-width="0.7"/>
<rect x="435.5" y="281.3" width="36.5" height="60.89999999999998" fill="#383838" stroke="#6a6a6a" stroke-width="0.8"/>
<rect x="492.5" y="286.3" width="3" height="80.89999999999998" fill="#575757"/>
<text x="412.2" y="364.9" font-size="5.2" fill="#d0d0d0" textLength="52" lengthAdjust="spacingAndGlyphs">KF20210805133447_001A</text>
</g>
<g clip-path="url(#t11)">
<rect x="505.0" y="281.3" width="70.70000000000005" height="76.89999999999998" fill="none" stroke="#5e5e5e" stroke-width="0.7"/>
<rect x="512.5" y="281.3" width="55.700000000000045" height="68.89999999999998" fill="none" stroke="#626262" stroke-width="0.7"/>
<rect x="522.0" y="281.3" width="36.700000000000045" height="60.89999999999998" fill="#383838" stroke="#6a6a6a" stroke-width="0.8"/>
<rect x="579.2" y="286.3" width="3" height="80.89999999999998" fill="#575757"/>
<text x="498.7" y="364.9" font-size="5.2" fill="#d0d0d0" textLength="52" lengthAdjust="spacingAndGlyphs">KF20210805133447_001A</text>
</g>
<g clip-path="url(#t20)">
<rect x="418.5" y="363.2" width="70.5" height="78.0" fill="none" stroke="#5e5e5e" stroke-width="0.7"/>
<rect x="426" y="363.2" width="55.5" height="70.0" fill="none" stroke="#626262" stroke-width="0.7"/>
<rect x="435.5" y="363.2" width="36.5" height="62.0" fill="#383838" stroke="#6a6a6a" stroke-width="0.8"/>
<rect x="492.5" y="368.2" width="3" height="82.0" fill="#575757"/>
<text x="412.2" y="447.9" font-size="5.2" fill="#d0d0d0" textLength="52" lengthAdjust="spacingAndGlyphs">KF20210805133447_001A</text>
</g>
<g clip-path="url(#t21)">
<rect x="505.0" y="363.2" width="70.70000000000005" height="78.0" fill="none" stroke="#5e5e5e" stroke-width="0.7"/>
<rect x="512.5" y="363.2" width="55.700000000000045" height="70.0" fill="none" stroke="#626262" stroke-width="0.7"/>
<rect x="522.0" y="363.2" width="36.700000000000045" height="62.0" fill="#383838" stroke="#6a6a6a" stroke-width="0.8"/>
<rect x="579.2" y="368.2" width="3" height="82.0" fill="#575757"/>
<text x="498.7" y="447.9" font-size="5.2" fill="#d0d0d0" textLength="52" lengthAdjust="spacingAndGlyphs">KF20210805133447_001A</text>
</g>
<g clip-path="url(#t30)">
<rect x="418.5" y="446.2" width="70.5" height="76.09999999999997" fill="none" stroke="#5e5e5e" stroke-width="0.7"/>
<rect x="426" y="446.2" width="55.5" height="68.09999999999997" fill="none" stroke="#626262" stroke-width="0.7"/>
<rect x="435.5" y="446.2" width="36.5" height="60.099999999999966" fill="#383838" stroke="#6a6a6a" stroke-width="0.8"/>
<rect x="492.5" y="451.2" width="3" height="80.09999999999997" fill="#575757"/>
<text x="412.2" y="529.0" font-size="5.2" fill="#d0d0d0" textLength="52" lengthAdjust="spacingAndGlyphs">KF20210805133447_001A</text>
</g>
<g clip-path="url(#t31)">
<rect x="505.0" y="446.2" width="70.70000000000005" height="76.09999999999997" fill="none" stroke="#5e5e5e" stroke-width="0.7"/>
<rect x="512.5" y="446.2" width="55.700000000000045" height="68.09999999999997" fill="none" stroke="#626262" stroke-width="0.7"/>
<rect x="522.0" y="446.2" width="36.700000000000045" height="60.099999999999966" fill="#383838" stroke="#6a6a6a" stroke-width="0.8"/>
<rect x="579.2" y="451.2" width="3" height="80.09999999999997" fill="#575757"/>
<text x="498.7" y="529.0" font-size="5.2" fill="#d0d0d0" textLength="52" lengthAdjust="spacingAndGlyphs">KF20210805133447_001A</text>
</g>
<g filter="url(#soft2)">
<rect x="438.5" y="202.0" width="8.0" height="34" fill="#262626"/>
<rect x="462.5" y="202.0" width="14.8" height="34" fill="#262626"/>
<rect x="526.0" y="202.0" width="10.5" height="34" fill="#262626"/>
<rect x="551.5" y="202.0" width="12.5" height="34" fill="#262626"/>
<rect x="438.2" y="287.0" width="11.0" height="34" fill="#262626"/>
<rect x="466.8" y="287.0" width="12.8" height="34" fill="#262626"/>
<rect x="525.0" y="287.0" width="8.2" height="34" fill="#262626"/>
<rect x="550.8" y="287.0" width="14.5" height="34" fill="#262626"/>
<rect x="437.0" y="369.0" width="10.2" height="34" fill="#262626"/>
<rect x="463.8" y="369.0" width="13.0" height="34" fill="#262626"/>
<rect x="525.0" y="369.0" width="13.8" height="34" fill="#262626"/>
<rect x="555.2" y="369.0" width="8.2" height="34" fill="#262626"/>
<rect x="436.5" y="452.0" width="10.8" height="34" fill="#262626"/>
<rect x="463.8" y="452.0" width="13.5" height="34" fill="#262626"/>
<rect x="522.8" y="452.0" width="11.2" height="34" fill="#262626"/>
<rect x="552.0" y="452.0" width="10.2" height="34" fill="#262626"/>
</g>
<g clip-path="url(#t00)"><g filter="url(#soft)">
<path d="M430.44 244.50Q425.92 264.90 419 286.3" stroke="#dadada" stroke-width="1.35" fill="none"/>
<path d="M423.71 238.76L418.11 242.76L412.40 243.95M435.70 241.07L439.83 245.13" stroke="#c8c8c8" stroke-width="2.1" fill="none" stroke-linecap="round" stroke-linejoin="round"/>
<path d="M422.99 213.36L418.15 209.80L414.05 206.68M433.38 203.50L438.47 200.46" stroke="#bdbdbd" stroke-width="2" fill="none" stroke-linecap="round" stroke-linejoin="round"/>
<path d="M425.62 199.12L424.06 200.60L423.13 203.94L422.25 208.68L421.55 213.42L420.95 220.51L420.71 227.58L420.77 233.23L421.33 237.91L422.57 241.63L424.29 243.91L426.50 245.23L429.06 246.06L431.94 245.94L434.42 244.89L436.51 243.39L438.03 240.97L438.95 237.17L439.11 232.45L438.69 226.82L437.85 219.79L436.65 212.78L435.55 208.12L434.27 203.46L433.06 200.22L431.38 198.88Z" fill="url(#mouseg)"/>
</g>
<g filter="url(#soft)"><ellipse cx="431.9" cy="220.8" rx="4.7" ry="5.7" fill="url(#blobg)" stroke="#8a10ff" stroke-width="0.8"/>
</g></g>
<g clip-path="url(#t00)"><g filter="url(#soft)">
<path d="M454.41 246.50Q447.40 265.90 438 286.3" stroke="#dadada" stroke-width="1.35" fill="none"/>
<path d="M447.55 240.56L442.04 244.83L436.35 246.16M459.59 242.77L463.81 246.94" stroke="#c8c8c8" stroke-width="2.1" fill="none" stroke-linecap="round" stroke-linejoin="round"/>
<path d="M446.29 214.07L441.38 210.44L437.22 207.25M456.47 203.61L461.50 200.36" stroke="#bdbdbd" stroke-width="2" fill="none" stroke-linecap="round" stroke-linejoin="round"/>
<path d="M448.63 199.18L447.10 200.74L446.23 204.24L445.45 209.21L444.85 214.16L444.41 221.57L444.32 228.95L444.50 234.84L445.16 239.72L446.47 243.57L448.24 245.92L450.49 247.26L453.06 248.09L455.94 247.91L458.39 246.78L460.46 245.18L461.93 242.63L462.76 238.64L462.82 233.72L462.28 227.85L461.29 220.53L459.95 213.24L458.75 208.39L457.37 203.56L456.08 200.20L454.37 198.82Z" fill="url(#mouseg)"/>
</g>
<g filter="url(#soft)"><ellipse cx="458.8" cy="223.5" rx="4.7" ry="8.7" fill="url(#blobr)" stroke="#8a10ff" stroke-width="0.8"/>
</g></g>
<g clip-path="url(#t00)"><g filter="url(#soft)">
<path d="M484.40 242.00Q483.40 263.65 480 286.3" stroke="#dadada" stroke-width="1.35" fill="none"/>
<path d="M478.09 236.78L473.07 240.69L467.86 241.94M489.14 238.72L493.03 242.48" stroke="#c8c8c8" stroke-width="2.1" fill="none" stroke-linecap="round" stroke-linejoin="round"/>
<path d="M476.80 212.73L472.28 209.46L468.45 206.59M486.08 203.16L490.67 200.17" stroke="#bdbdbd" stroke-width="2" fill="none" stroke-linecap="round" stroke-linejoin="round"/>
<path d="M478.87 199.18L477.47 200.61L476.70 203.79L476.01 208.31L475.49 212.82L475.11 219.55L475.07 226.25L475.26 231.61L475.89 236.03L477.12 239.53L478.75 241.65L480.82 242.85L483.18 243.59L485.82 243.41L488.06 242.37L489.95 240.90L491.28 238.57L492.03 234.95L492.06 230.47L491.53 225.15L490.59 218.50L489.31 211.88L488.19 207.49L486.90 203.11L485.71 200.06L484.13 198.82Z" fill="url(#mouseg)"/>
</g>
<g filter="url(#soft)"><ellipse cx="484.8" cy="218.1" rx="3.7" ry="5.2" fill="url(#blobb)" stroke="#8a10ff" stroke-width="0.8"/>
<circle cx="484.5" cy="225.5" r="1.6" fill="#3010ff"/>
</g></g>
<g clip-path="url(#t01)"><g filter="url(#soft)">
<path d="M517.37 244.01Q521.89 264.65 524 286.3" stroke="#dadada" stroke-width="1.35" fill="none"/>
<path d="M510.05 238.65L504.31 242.89L498.33 244.34M522.78 240.36L527.30 244.19" stroke="#c8c8c8" stroke-width="2.1" fill="none" stroke-linecap="round" stroke-linejoin="round"/>
<path d="M508.26 213.50L503.02 210.21L498.58 207.31M518.82 203.23L524.07 199.96" stroke="#bdbdbd" stroke-width="2" fill="none" stroke-linecap="round" stroke-linejoin="round"/>
<path d="M510.47 199.26L508.89 200.80L508.03 204.15L507.30 208.90L506.75 213.63L506.40 220.69L506.43 227.71L506.73 233.31L507.50 237.93L508.96 241.55L510.86 243.73L513.26 244.93L515.99 245.63L519.01 245.37L521.58 244.21L523.74 242.62L525.24 240.15L526.06 236.33L526.03 231.65L525.37 226.09L524.20 219.16L522.65 212.27L521.30 207.70L519.77 203.15L518.35 199.99L516.53 198.74Z" fill="url(#mouseg)"/>
</g>
<g filter="url(#soft)"><ellipse cx="518.8" cy="220.2" rx="6.7" ry="6.2" fill="url(#blobr)" stroke="#8a10ff" stroke-width="0.8"/>
</g></g>
<g clip-path="url(#t01)"><g filter="url(#soft)">
<path d="M543.88 242.50Q540.14 263.90 534 286.3" stroke="#dadada" stroke-width="1.35" fill="none"/>
<path d="M537.34 237.27L532.19 241.30L526.84 242.62M548.73 239.10L552.78 242.86" stroke="#c8c8c8" stroke-width="2.1" fill="none" stroke-linecap="round" stroke-linejoin="round"/>
<path d="M535.79 212.95L531.10 209.69L527.13 206.83M545.26 203.16L549.96 200.07" stroke="#bdbdbd" stroke-width="2" fill="none" stroke-linecap="round" stroke-linejoin="round"/>
<path d="M537.79 199.21L536.37 200.68L535.60 203.91L534.93 208.49L534.43 213.05L534.11 219.87L534.13 226.66L534.38 232.07L535.07 236.55L536.36 240.07L538.06 242.20L540.20 243.39L542.64 244.11L545.36 243.89L547.66 242.81L549.59 241.30L550.94 238.93L551.67 235.25L551.66 230.73L551.07 225.34L550.04 218.63L548.67 211.95L547.47 207.51L546.10 203.09L544.84 200.02L543.21 198.79Z" fill="url(#mouseg)"/>
</g>
<g filter="url(#soft)"><ellipse cx="543.7" cy="216.8" rx="4.7" ry="4.7" fill="url(#blobb)" stroke="#8a10ff" stroke-width="0.8"/>
<circle cx="551" cy="222.5" r="1.6" fill="#3010ff"/>
</g></g>
<g clip-path="url(#t01)"><g filter="url(#soft)">
<path d="M571.36 241.01Q578.38 251.50 583 263" stroke="#dadada" stroke-width="1.35" fill="none"/>
<path d="M564.77 236.10L559.67 240.08L554.33 241.45M576.18 237.68L580.26 241.26" stroke="#c8c8c8" stroke-width="2.1" fill="none" stroke-linecap="round" stroke-linejoin="round"/>
<path d="M562.94 212.58L558.22 209.50L554.22 206.80M572.30 202.95L576.97 199.88" stroke="#bdbdbd" stroke-width="2" fill="none" stroke-linecap="round" stroke-linejoin="round"/>
<path d="M564.79 199.25L563.39 200.69L562.65 203.83L562.04 208.28L561.59 212.70L561.34 219.31L561.44 225.88L561.75 231.11L562.48 235.43L563.82 238.82L565.54 240.85L567.70 241.97L570.15 242.62L572.85 242.38L575.14 241.29L577.06 239.80L578.38 237.48L579.08 233.91L579.01 229.53L578.36 224.32L577.26 217.84L575.81 211.40L574.56 207.12L573.15 202.87L571.85 199.92L570.21 198.75Z" fill="url(#mouseg)"/>
</g>
<g filter="url(#soft)"><ellipse cx="573.2" cy="220.2" rx="4.7" ry="6.7" fill="url(#blobg)" stroke="#8a10ff" stroke-width="0.8"/>
</g></g>
<g clip-path="url(#t10)"><g filter="url(#soft)">
<path d="M428.92 327.00Q430.16 347.10 429 368.2" stroke="#dadada" stroke-width="1.35" fill="none"/>
<path d="M421.23 321.79L414.88 325.72L408.38 326.98M434.89 323.71L439.62 327.46" stroke="#c8c8c8" stroke-width="2.1" fill="none" stroke-linecap="round" stroke-linejoin="round"/>
<path d="M420.29 297.74L414.77 294.48L410.09 291.62M432.07 288.15L437.86 285.15" stroke="#bdbdbd" stroke-width="2" fill="none" stroke-linecap="round" stroke-linejoin="round"/>
<path d="M423.23 284.18L421.46 285.62L420.41 288.81L419.43 293.33L418.65 297.83L418.01 304.57L417.77 311.27L417.86 316.63L418.52 321.05L419.95 324.54L421.92 326.67L424.45 327.86L427.36 328.59L430.64 328.41L433.45 327.36L435.83 325.88L437.55 323.56L438.58 319.93L438.74 315.45L438.23 310.13L437.24 303.48L435.85 296.87L434.57 292.47L433.09 288.09L431.69 285.05L429.77 283.82Z" fill="url(#mouseg)"/>
</g>
<g filter="url(#soft)"><ellipse cx="429.5" cy="304.5" rx="5.2" ry="5.2" fill="url(#blobc)" stroke="#8a10ff" stroke-width="0.8"/>
</g></g>
<g clip-path="url(#t10)"><g filter="url(#soft)">
<path d="M457.88 326.00Q460.14 346.60 460 368.2" stroke="#dadada" stroke-width="1.35" fill="none"/>
<path d="M450.44 321.10L444.50 325.08L438.35 326.45M463.48 322.68L468.07 326.25" stroke="#c8c8c8" stroke-width="2.1" fill="none" stroke-linecap="round" stroke-linejoin="round"/>
<path d="M448.94 297.58L443.61 294.51L439.09 291.81M459.90 287.94L465.33 284.88" stroke="#bdbdbd" stroke-width="2" fill="none" stroke-linecap="round" stroke-linejoin="round"/>
<path d="M451.39 284.25L449.75 285.70L448.82 288.83L448.01 293.28L447.39 297.71L446.94 304.31L446.88 310.88L447.11 316.12L447.85 320.44L449.29 323.82L451.22 325.86L453.65 326.97L456.45 327.63L459.55 327.37L462.21 326.29L464.43 324.79L466.01 322.48L466.89 318.90L466.93 314.52L466.32 309.32L465.21 302.84L463.71 296.39L462.39 292.12L460.88 287.87L459.46 284.91L457.61 283.75Z" fill="url(#mouseg)"/>
</g>
<g filter="url(#soft)"><ellipse cx="456.3" cy="302.5" rx="4.2" ry="4.2" fill="url(#blobc)" stroke="#8a10ff" stroke-width="0.8"/>
<circle cx="461.7" cy="308" r="1.6" fill="#3010ff"/>
</g></g>
<g clip-path="url(#t10)"><g filter="url(#soft)">
<path d="M486.88 325.50Q484.64 346.35 480 368.2" stroke="#dadada" stroke-width="1.35" fill="none"/>
<path d="M480.34 320.62L475.20 324.50L469.85 325.80M491.73 322.29L495.78 325.85" stroke="#c8c8c8" stroke-width="2.1" fill="none" stroke-linecap="round" stroke-linejoin="round"/>
<path d="M478.79 297.37L474.10 294.29L470.13 291.58M488.26 287.94L492.96 284.96" stroke="#bdbdbd" stroke-width="2" fill="none" stroke-linecap="round" stroke-linejoin="round"/>
<path d="M480.79 284.22L479.37 285.63L478.60 288.73L477.93 293.11L477.43 297.48L477.11 304.00L477.13 310.49L477.38 315.66L478.07 319.94L479.36 323.29L481.06 325.32L483.20 326.44L485.64 327.11L488.36 326.89L490.66 325.84L492.59 324.38L493.94 322.11L494.67 318.58L494.66 314.26L494.07 309.11L493.04 302.70L491.67 296.32L490.47 292.09L489.10 287.87L487.84 284.95L486.21 283.78Z" fill="url(#mouseg)"/>
</g>
<g filter="url(#soft)"><ellipse cx="484.6" cy="301.1" rx="3.7" ry="3.7" fill="url(#blobb)" stroke="#8a10ff" stroke-width="0.8"/>
<circle cx="487" cy="305.5" r="1.6" fill="#3010ff"/>
</g></g>
<g clip-path="url(#t11)"><g filter="url(#soft)">
<path d="M516.37 329.01Q511.89 348.10 505 368.2" stroke="#dadada" stroke-width="1.35" fill="none"/>
<path d="M509.05 323.65L503.31 327.89L497.33 329.34M521.78 325.36L526.30 329.19" stroke="#c8c8c8" stroke-width="2.1" fill="none" stroke-linecap="round" stroke-linejoin="round"/>
<path d="M507.26 298.50L502.02 295.21L497.58 292.31M517.82 288.23L523.07 284.96" stroke="#bdbdbd" stroke-width="2" fill="none" stroke-linecap="round" stroke-linejoin="round"/>
<path d="M509.47 284.26L507.89 285.80L507.03 289.15L506.30 293.90L505.75 298.63L505.40 305.69L505.43 312.71L505.73 318.31L506.50 322.93L507.96 326.55L509.86 328.73L512.26 329.93L514.99 330.63L518.01 330.37L520.58 329.21L522.74 327.62L524.24 325.15L525.06 321.33L525.03 316.65L524.37 311.09L523.20 304.16L521.65 297.27L520.30 292.70L518.77 288.15L517.35 284.99L515.53 283.74Z" fill="url(#mouseg)"/>
</g>
<g filter="url(#soft)"><ellipse cx="513.9" cy="304.5" rx="5.2" ry="5.7" fill="url(#blobb)" stroke="#8a10ff" stroke-width="0.8"/>
</g></g>
<g clip-path="url(#t11)"><g filter="url(#soft)">
<path d="M541.87 323.51Q542.14 345.35 540 368.2" stroke="#dadada" stroke-width="1.35" fill="none"/>
<path d="M534.45 319.04L528.51 322.85L522.36 324.20M547.48 320.40L552.07 323.73" stroke="#c8c8c8" stroke-width="2.1" fill="none" stroke-linecap="round" stroke-linejoin="round"/>
<path d="M532.94 296.86L527.61 294.02L523.09 291.51M543.90 287.67L549.33 284.73" stroke="#bdbdbd" stroke-width="2" fill="none" stroke-linecap="round" stroke-linejoin="round"/>
<path d="M535.39 284.27L533.75 285.64L532.83 288.61L532.01 292.81L531.39 297.00L530.94 303.23L530.89 309.43L531.11 314.37L531.85 318.43L533.30 321.61L535.22 323.51L537.66 324.54L540.45 325.13L543.55 324.87L546.20 323.82L548.43 322.39L550.00 320.19L550.89 316.81L550.93 312.67L550.31 307.77L549.21 301.67L547.71 295.60L546.39 291.59L544.87 287.59L543.46 284.82L541.61 283.73Z" fill="url(#mouseg)"/>
</g>
<g filter="url(#soft)"><ellipse cx="539" cy="299.1" rx="3.7" ry="3.7" fill="url(#blobb)" stroke="#8a10ff" stroke-width="0.8"/>
</g></g>
<g clip-path="url(#t11)"><g filter="url(#soft)">
<path d="M573.37 327.51Q573.38 347.35 571 368.2" stroke="#dadada" stroke-width="1.35" fill="none"/>
<path d="M566.23 322.39L560.65 326.51L554.83 327.94M578.63 324.01L583.04 327.70" stroke="#c8c8c8" stroke-width="2.1" fill="none" stroke-linecap="round" stroke-linejoin="round"/>
<path d="M564.43 298.06L559.32 294.88L554.99 292.09M574.69 288.07L579.80 284.90" stroke="#bdbdbd" stroke-width="2" fill="none" stroke-linecap="round" stroke-linejoin="round"/>
<path d="M566.55 284.26L565.01 285.76L564.19 289.01L563.48 293.61L562.96 298.19L562.64 305.02L562.69 311.82L562.98 317.24L563.75 321.70L565.18 325.20L567.03 327.31L569.37 328.46L572.03 329.13L574.97 328.87L577.47 327.74L579.57 326.19L581.02 323.80L581.81 320.10L581.78 315.56L581.11 310.18L579.96 303.48L578.44 296.81L577.12 292.39L575.61 287.99L574.23 284.94L572.45 283.74Z" fill="url(#mouseg)"/>
</g>
<g filter="url(#soft)"><ellipse cx="574.3" cy="303.1" rx="4.7" ry="4.7" fill="url(#blobc)" stroke="#8a10ff" stroke-width="0.8"/>
</g></g>
<g clip-path="url(#t20)"><g filter="url(#soft)">
<path d="M428.40 411.00Q423.40 430.60 416 451.2" stroke="#dadada" stroke-width="1.35" fill="none"/>
<path d="M421.19 405.50L415.37 409.61L409.36 410.93M433.89 407.48L438.33 411.40" stroke="#c8c8c8" stroke-width="2.1" fill="none" stroke-linecap="round" stroke-linejoin="round"/>
<path d="M419.95 380.37L414.78 376.96L410.40 373.98M430.73 370.33L436.05 367.19" stroke="#bdbdbd" stroke-width="2" fill="none" stroke-linecap="round" stroke-linejoin="round"/>
<path d="M422.47 366.20L420.85 367.70L419.92 371.03L419.08 375.75L418.44 380.46L417.94 387.50L417.82 394.51L417.99 400.10L418.67 404.73L420.05 408.38L421.90 410.59L424.27 411.84L426.98 412.60L430.02 412.40L432.61 411.30L434.80 409.76L436.35 407.32L437.25 403.53L437.33 398.86L436.78 393.29L435.76 386.35L434.36 379.44L433.12 374.85L431.68 370.27L430.33 367.09L428.53 365.80Z" fill="url(#mouseg)"/>
</g>
<g filter="url(#soft)"><ellipse cx="428.8" cy="385.5" rx="5.2" ry="5.7" fill="url(#blobc)" stroke="#8a10ff" stroke-width="0.8"/>
</g></g>
<g clip-path="url(#t20)"><g filter="url(#soft)">
<path d="M455.38 403.00Q452.39 426.60 447 451.2" stroke="#dadada" stroke-width="1.35" fill="none"/>
<path d="M448.38 398.86L442.72 402.40L436.88 403.63M460.73 400.22L465.06 403.37" stroke="#c8c8c8" stroke-width="2.1" fill="none" stroke-linecap="round" stroke-linejoin="round"/>
<path d="M447.13 378.04L442.09 375.33L437.83 372.95M457.60 369.48L462.76 366.75" stroke="#bdbdbd" stroke-width="2" fill="none" stroke-linecap="round" stroke-linejoin="round"/>
<path d="M449.55 366.23L447.98 367.51L447.08 370.30L446.28 374.23L445.65 378.15L445.18 384.00L445.08 389.82L445.25 394.45L445.92 398.27L447.27 401.27L449.08 403.06L451.38 404.05L454.02 404.61L456.98 404.39L459.50 403.41L461.62 402.09L463.13 400.03L464.00 396.87L464.07 392.99L463.52 388.38L462.52 382.65L461.15 376.95L459.92 373.17L458.52 369.40L457.20 366.80L455.45 365.77Z" fill="url(#mouseg)"/>
</g>
<g filter="url(#soft)"><ellipse cx="456.1" cy="378.5" rx="4.7" ry="4.7" fill="url(#blobg)" stroke="#8a10ff" stroke-width="0.8"/>
</g></g>
<g clip-path="url(#t20)"><g filter="url(#soft)">
<path d="M484.36 407.01Q484.38 428.60 482 451.2" stroke="#dadada" stroke-width="1.35" fill="none"/>
<path d="M477.59 402.29L472.33 406.22L466.84 407.59M489.33 403.76L493.52 407.22" stroke="#c8c8c8" stroke-width="2.1" fill="none" stroke-linecap="round" stroke-linejoin="round"/>
<path d="M475.78 379.31L470.93 376.33L466.81 373.72M485.43 369.82L490.24 366.80" stroke="#bdbdbd" stroke-width="2" fill="none" stroke-linecap="round" stroke-linejoin="round"/>
<path d="M477.71 366.26L476.26 367.68L475.50 370.76L474.85 375.11L474.38 379.44L474.11 385.90L474.19 392.32L474.49 397.44L475.24 401.65L476.61 404.96L478.38 406.93L480.59 408.01L483.11 408.63L485.89 408.37L488.25 407.29L490.22 405.82L491.59 403.54L492.32 400.05L492.27 395.76L491.61 390.68L490.49 384.35L489.02 378.06L487.75 373.89L486.30 369.74L484.98 366.87L483.29 365.74Z" fill="url(#mouseg)"/>
</g>
<g filter="url(#soft)"><ellipse cx="484.1" cy="382.1" rx="4.7" ry="6.2" fill="url(#blobg)" stroke="#8a10ff" stroke-width="0.8"/>
</g></g>
<g clip-path="url(#t21)"><g filter="url(#soft)">
<path d="M516.36 408.01Q514.38 429.10 510 451.2" stroke="#dadada" stroke-width="1.35" fill="none"/>
<path d="M509.05 403.17L503.31 407.20L497.34 408.63M521.78 404.63L526.30 408.16" stroke="#c8c8c8" stroke-width="2.1" fill="none" stroke-linecap="round" stroke-linejoin="round"/>
<path d="M507.27 379.64L502.03 376.61L497.59 373.95M517.82 369.90L523.07 366.78" stroke="#bdbdbd" stroke-width="2" fill="none" stroke-linecap="round" stroke-linejoin="round"/>
<path d="M509.47 366.28L507.89 367.74L507.03 370.89L506.30 375.34L505.75 379.78L505.41 386.39L505.44 392.97L505.73 398.21L506.51 402.52L507.96 405.90L509.87 407.92L512.26 409.01L514.99 409.64L518.01 409.36L520.58 408.25L522.73 406.73L524.24 404.40L525.05 400.82L525.03 396.43L524.36 391.23L523.19 384.76L521.65 378.32L520.30 374.06L518.77 369.81L517.35 366.87L515.53 365.72Z" fill="url(#mouseg)"/>
</g>
<g filter="url(#soft)"><ellipse cx="515.2" cy="383.5" rx="4.7" ry="4.7" fill="url(#blobg)" stroke="#8a10ff" stroke-width="0.8"/>
<circle cx="520" cy="388" r="1.6" fill="#3010ff"/>
</g></g>
<g clip-path="url(#t21)"><g filter="url(#soft)">
<path d="M546.87 406.01Q547.14 428.10 545 451.2" stroke="#dadada" stroke-width="1.35" fill="none"/>
<path d="M539.80 401.42L534.18 405.24L528.36 406.56M552.18 402.88L556.55 406.28" stroke="#c8c8c8" stroke-width="2.1" fill="none" stroke-linecap="round" stroke-linejoin="round"/>
<path d="M538.28 378.98L533.21 376.06L528.91 373.50M548.64 369.75L553.78 366.80" stroke="#bdbdbd" stroke-width="2" fill="none" stroke-linecap="round" stroke-linejoin="round"/>
<path d="M540.55 366.25L539.00 367.63L538.14 370.63L537.38 374.88L536.81 379.10L536.41 385.41L536.38 391.68L536.62 396.67L537.34 400.79L538.72 404.02L540.56 405.95L542.87 407.01L545.53 407.62L548.47 407.38L550.99 406.33L553.09 404.90L554.58 402.68L555.40 399.27L555.42 395.09L554.82 390.12L553.74 383.94L552.29 377.80L551.02 373.72L549.56 369.67L548.21 366.86L546.45 365.75Z" fill="url(#mouseg)"/>
</g>
<g filter="url(#soft)"><ellipse cx="545" cy="381.5" rx="5.7" ry="5.2" fill="url(#blobg)" stroke="#8a10ff" stroke-width="0.8"/>
</g></g>
<g clip-path="url(#t21)"><g filter="url(#soft)">
<path d="M570.88 407.01Q566.64 428.60 560 451.2" stroke="#dadada" stroke-width="1.35" fill="none"/>
<path d="M564.34 402.20L559.20 406.05L553.85 407.35M575.73 403.83L579.78 407.35" stroke="#c8c8c8" stroke-width="2.1" fill="none" stroke-linecap="round" stroke-linejoin="round"/>
<path d="M562.79 379.22L558.10 376.19L554.13 373.52M572.26 369.89L576.96 366.93" stroke="#bdbdbd" stroke-width="2" fill="none" stroke-linecap="round" stroke-linejoin="round"/>
<path d="M564.79 366.22L563.37 367.62L562.60 370.68L561.93 375.02L561.43 379.34L561.11 385.78L561.13 392.20L561.38 397.31L562.07 401.53L563.36 404.85L565.06 406.85L567.20 407.96L569.64 408.61L572.36 408.39L574.66 407.34L576.59 405.90L577.94 403.65L578.67 400.17L578.66 395.89L578.07 390.80L577.04 384.47L575.67 378.16L574.47 373.98L573.10 369.82L571.84 366.93L570.21 365.78Z" fill="url(#mouseg)"/>
</g>
<g filter="url(#soft)"><ellipse cx="570.6" cy="382.1" rx="4.2" ry="4.7" fill="url(#blobc)" stroke="#8a10ff" stroke-width="0.8"/>
<circle cx="574" cy="388" r="1.6" fill="#3010ff"/>
</g></g>
<g clip-path="url(#t30)"><g filter="url(#soft)">
<path d="M427.92 493.00Q424.16 512.15 418 532.3" stroke="#dadada" stroke-width="1.35" fill="none"/>
<path d="M420.77 487.60L414.90 491.57L408.88 492.81M433.44 489.64L437.84 493.50" stroke="#c8c8c8" stroke-width="2.1" fill="none" stroke-linecap="round" stroke-linejoin="round"/>
<path d="M419.80 463.00L414.67 459.64L410.32 456.68M430.68 453.28L436.03 450.25" stroke="#bdbdbd" stroke-width="2" fill="none" stroke-linecap="round" stroke-linejoin="round"/>
<path d="M422.46 449.17L420.83 450.63L419.87 453.87L418.98 458.49L418.28 463.09L417.71 469.96L417.51 476.82L417.62 482.29L418.25 486.82L419.59 490.40L421.42 492.58L423.78 493.82L426.48 494.58L429.52 494.42L432.12 493.36L434.33 491.87L435.91 489.50L436.85 485.80L436.98 481.23L436.49 475.78L435.54 468.99L434.22 462.21L433.02 457.71L431.63 453.23L430.32 450.10L428.54 448.83Z" fill="url(#mouseg)"/>
</g>
<g filter="url(#soft)"><ellipse cx="429.5" cy="469.5" rx="3.7" ry="4.2" fill="url(#blobb)" stroke="#8a10ff" stroke-width="0.8"/>
</g></g>
<g clip-path="url(#t30)"><g filter="url(#soft)">
<path d="M455.39 488.00Q453.89 509.65 450 532.3" stroke="#dadada" stroke-width="1.35" fill="none"/>
<path d="M448.38 483.51L442.71 487.19L436.87 488.44M460.73 485.04L465.06 488.38" stroke="#c8c8c8" stroke-width="2.1" fill="none" stroke-linecap="round" stroke-linejoin="round"/>
<path d="M447.13 461.61L442.09 458.73L437.82 456.20M457.60 452.69L462.77 449.87" stroke="#bdbdbd" stroke-width="2" fill="none" stroke-linecap="round" stroke-linejoin="round"/>
<path d="M449.55 449.22L447.98 450.56L447.08 453.47L446.27 457.61L445.65 461.72L445.18 467.87L445.08 473.98L445.25 478.86L445.92 482.88L447.27 486.04L449.08 487.94L451.38 488.99L454.02 489.61L456.98 489.39L459.50 488.39L461.62 487.01L463.13 484.86L464.00 481.54L464.07 477.46L463.52 472.62L462.52 466.58L461.15 460.58L459.93 456.59L458.52 452.63L457.20 449.87L455.45 448.78Z" fill="url(#mouseg)"/>
</g>
<g filter="url(#soft)"><ellipse cx="456.3" cy="466.4" rx="4.2" ry="3.2" fill="url(#blobb)" stroke="#8a10ff" stroke-width="0.8"/>
</g></g>
<g clip-path="url(#t30)"><g filter="url(#soft)">
<path d="M484.88 493.00Q479.64 512.15 472 532.3" stroke="#dadada" stroke-width="1.35" fill="none"/>
<path d="M478.16 487.70L472.86 491.77L467.34 493.11M489.88 489.55L494.04 493.35" stroke="#c8c8c8" stroke-width="2.1" fill="none" stroke-linecap="round" stroke-linejoin="round"/>
<path d="M476.62 463.11L471.80 459.82L467.72 456.93M486.39 453.20L491.24 450.08" stroke="#bdbdbd" stroke-width="2" fill="none" stroke-linecap="round" stroke-linejoin="round"/>
<path d="M478.71 449.21L477.24 450.70L476.44 453.97L475.74 458.60L475.22 463.21L474.87 470.11L474.88 476.97L475.12 482.44L475.82 486.97L477.15 490.53L478.89 492.68L481.09 493.89L483.60 494.61L486.40 494.39L488.77 493.29L490.76 491.77L492.15 489.37L492.92 485.65L492.92 481.08L492.32 475.63L491.28 468.84L489.88 462.09L488.66 457.60L487.26 453.13L485.97 450.03L484.29 448.79Z" fill="url(#mouseg)"/>
</g>
<g filter="url(#soft)"><ellipse cx="486.2" cy="466.4" rx="4.2" ry="5.2" fill="url(#blobb)" stroke="#8a10ff" stroke-width="0.8"/>
</g></g>
<g clip-path="url(#t31)"><g filter="url(#soft)">
<path d="M513.88 492.50Q507.14 511.90 498 532.3" stroke="#dadada" stroke-width="1.35" fill="none"/>
<path d="M506.44 487.34L500.50 491.43L494.35 492.81M519.48 489.05L524.07 492.76" stroke="#c8c8c8" stroke-width="2.1" fill="none" stroke-linecap="round" stroke-linejoin="round"/>
<path d="M504.94 463.01L499.61 459.81L495.08 456.99M515.90 453.11L521.33 449.97" stroke="#bdbdbd" stroke-width="2" fill="none" stroke-linecap="round" stroke-linejoin="round"/>
<path d="M507.39 449.24L505.74 450.73L504.82 453.97L504.01 458.56L503.38 463.14L502.94 469.96L502.88 476.76L503.10 482.17L503.84 486.64L505.29 490.15L507.21 492.26L509.65 493.43L512.44 494.12L515.56 493.88L518.21 492.77L520.44 491.24L522.01 488.85L522.90 485.16L522.94 480.63L522.32 475.24L521.21 468.54L519.72 461.86L518.39 457.44L516.88 453.03L515.47 449.97L513.61 448.76Z" fill="url(#mouseg)"/>
</g>
<g filter="url(#soft)"><ellipse cx="517.5" cy="469.1" rx="3.7" ry="3.7" fill="url(#blobb)" stroke="#8a10ff" stroke-width="0.8"/>
</g></g>
<g clip-path="url(#t31)"><g filter="url(#soft)">
<path d="M542.87 489.01Q532.64 510.15 520 532.3" stroke="#dadada" stroke-width="1.35" fill="none"/>
<path d="M535.27 484.47L529.17 488.32L522.86 489.69M548.63 485.85L553.33 489.21" stroke="#c8c8c8" stroke-width="2.1" fill="none" stroke-linecap="round" stroke-linejoin="round"/>
<path d="M533.77 462.02L528.31 459.14L523.68 456.60M545.03 452.71L550.60 449.74" stroke="#bdbdbd" stroke-width="2" fill="none" stroke-linecap="round" stroke-linejoin="round"/>
<path d="M536.31 449.27L534.62 450.67L533.67 453.67L532.83 457.92L532.18 462.16L531.71 468.46L531.64 474.74L531.86 479.74L532.60 483.85L534.08 487.07L536.05 489.00L538.55 490.04L541.41 490.63L544.59 490.37L547.31 489.30L549.60 487.85L551.22 485.63L552.14 482.21L552.18 478.02L551.56 473.06L550.44 466.89L548.92 460.74L547.57 456.68L546.03 452.63L544.59 449.82L542.69 448.73Z" fill="url(#mouseg)"/>
</g>
<g filter="url(#soft)"><ellipse cx="547" cy="466.1" rx="4.7" ry="4.2" fill="url(#blobb)" stroke="#8a10ff" stroke-width="0.8"/>
</g></g>
<g clip-path="url(#t31)"><g filter="url(#soft)">
<path d="M570.88 492.00Q566.64 511.65 560 532.3" stroke="#dadada" stroke-width="1.35" fill="none"/>
<path d="M563.44 486.93L557.50 490.98L551.35 492.36M576.48 488.59L581.07 492.26" stroke="#c8c8c8" stroke-width="2.1" fill="none" stroke-linecap="round" stroke-linejoin="round"/>
<path d="M561.94 462.87L556.61 459.71L552.08 456.93M572.90 453.05L578.33 449.94" stroke="#bdbdbd" stroke-width="2" fill="none" stroke-linecap="round" stroke-linejoin="round"/>
<path d="M564.39 449.24L562.75 450.72L561.82 453.92L561.01 458.47L560.39 462.99L559.94 469.74L559.88 476.46L560.11 481.82L560.84 486.24L562.29 489.71L564.22 491.79L566.65 492.95L569.44 493.62L572.56 493.38L575.21 492.27L577.43 490.76L579.01 488.39L579.90 484.74L579.93 480.26L579.32 474.94L578.21 468.31L576.71 461.71L575.39 457.33L573.88 452.98L572.46 449.95L570.61 448.76Z" fill="url(#mouseg)"/>
</g>
<g filter="url(#soft)"><ellipse cx="569.9" cy="467.2" rx="3.7" ry="3.7" fill="url(#blobb)" stroke="#8a10ff" stroke-width="0.8"/>
</g></g>
<rect x="496.5" y="201.5" width="1" height="329.79999999999995" fill="#fff"/>
<rect x="411" y="285.3" width="172.20000000000005" height="1" fill="#fff"/>
<rect x="411" y="367.2" width="172.20000000000005" height="1" fill="#fff"/>
<rect x="411" y="450.2" width="172.20000000000005" height="1" fill="#fff"/>
<text transform="translate(406.4,242.4) scale(0.92,1)" font-size="10.2" text-anchor="end" fill="#222" >ShNC</text>
<text transform="translate(406.4,330) scale(0.92,1)" font-size="10.2" text-anchor="end" fill="#222" >ShPias4</text>
<text transform="translate(406.4,404.5) scale(0.92,1)" font-size="10.2" text-anchor="end" fill="#222" >ShCdk6</text>
<text transform="translate(406.4,497.5) scale(0.92,1)" font-size="10.2" text-anchor="end" fill="#222" >ShPias4+ShCdk6</text>
<rect x="589.1" y="201.6" width="7.1" height="268.6" fill="url(#cbar)"/>
<line x1="596.2" y1="214.40" x2="599.4" y2="214.40" stroke="#333" stroke-width="0.8"/>
<line x1="596.2" y1="231.68" x2="598.6" y2="231.68" stroke="#777" stroke-width="0.8"/>
<line x1="596.2" y1="248.96" x2="598.6" y2="248.96" stroke="#777" stroke-width="0.8"/>
<line x1="596.2" y1="266.24" x2="598.6" y2="266.24" stroke="#777" stroke-width="0.8"/>
<line x1="596.2" y1="283.52" x2="598.6" y2="283.52" stroke="#777" stroke-width="0.8"/>
<line x1="596.2" y1="300.80" x2="599.4" y2="300.80" stroke="#333" stroke-width="0.8"/>
<line x1="596.2" y1="318.08" x2="598.6" y2="318.08" stroke="#777" stroke-width="0.8"/>
<line x1="596.2" y1="335.36" x2="598.6" y2="335.36" stroke="#777" stroke-width="0.8"/>
<line x1="596.2" y1="352.64" x2="598.6" y2="352.64" stroke="#777" stroke-width="0.8"/>
<line x1="596.2" y1="369.92" x2="598.6" y2="369.92" stroke="#777" stroke-width="0.8"/>
<line x1="596.2" y1="387.20" x2="599.4" y2="387.20" stroke="#333" stroke-width="0.8"/>
<line x1="596.2" y1="404.48" x2="598.6" y2="404.48" stroke="#777" stroke-width="0.8"/>
<line x1="596.2" y1="421.76" x2="598.6" y2="421.76" stroke="#777" stroke-width="0.8"/>
<line x1="596.2" y1="439.04" x2="598.6" y2="439.04" stroke="#777" stroke-width="0.8"/>
<line x1="596.2" y1="456.32" x2="598.6" y2="456.32" stroke="#777" stroke-width="0.8"/>
<text transform="translate(600.4,218.4) scale(0.95,1)" font-size="9.8" text-anchor="start" fill="#222" >3.0</text>
<text transform="translate(600.4,304.8) scale(0.95,1)" font-size="9.8" text-anchor="start" fill="#222" >2.0</text>
<text transform="translate(600.4,391.2) scale(0.95,1)" font-size="9.8" text-anchor="start" fill="#222" >1.0</text>
<text x="614.3" y="270.3" font-size="9" fill="#222">×10<tspan font-size="6" dy="-3.6">9</tspan></text>
<text x="587.7" y="482.9" font-size="9.5" text-anchor="start" fill="#222" >Radiance</text>
<text x="584.4" y="492" font-size="9.3" text-anchor="start" fill="#222" font-style="italic">(p/sec/cm2/sr)</text>
<rect x="583.6" y="497.1" width="62.4" height="34.3" fill="#fff" stroke="#444" stroke-width="0.8"/>
<text x="586.8" y="505.7" font-size="9.4" text-anchor="start" fill="#222" >Color Scale</text>
<text x="587.7" y="516.9" font-size="9.5" text-anchor="start" fill="#222" >Min</text>
<rect x="604.2" y="512.2" width="6.6" height="3.2" fill="#c4c4c4"/>
<text x="612.2" y="516.9" font-size="9.5" text-anchor="start" fill="#222" >3.30e7</text>
<text x="586.8" y="527.9" font-size="9.5" text-anchor="start" fill="#222" >Max</text>
<path d="M605.3 523.6H612M605.3 526H612" stroke="#555" stroke-width="0.8"/>
<text x="613.6" y="527.9" font-size="9.5" text-anchor="start" fill="#222" >3.15e9</text>
<line x1="331" y1="561.4" x2="685" y2="561.4" stroke="#efefef" stroke-width="0.8"/>
<clipPath id="gl"><rect x="332" y="562" width="177.5" height="170"/></clipPath>
<clipPath id="gr"><rect x="509.5" y="562" width="176" height="170"/></clipPath>
<circle cx="509.3" cy="906" r="327" fill="#f5f7fb" clip-path="url(#gl)"/>
<circle cx="509.3" cy="906" r="327" fill="#fef3f3" clip-path="url(#gr)"/>
<path d="M509.3 579A327 327 0 0 0 331 631.89" fill="none" stroke="#a6bccb" stroke-width="5" stroke-dasharray="23 14.4" stroke-dashoffset="21.2" stroke-linecap="round"/>
<path d="M509.3 579A327 327 0 0 0 331 631.89" fill="none" stroke="#dde9f2" stroke-width="3" stroke-dasharray="23 14.4" stroke-dashoffset="21.2" stroke-linecap="round"/>
<path d="M509.3 579A327 327 0 0 1 686 630.85" fill="none" stroke="#efb2b9" stroke-width="5" stroke-dasharray="23 14.4" stroke-dashoffset="21.2" stroke-linecap="round"/>
<path d="M509.3 579A327 327 0 0 1 686 630.85" fill="none" stroke="#fbe0e3" stroke-width="3" stroke-dasharray="23 14.4" stroke-dashoffset="21.2" stroke-linecap="round"/>
<line x1="509.5" y1="581" x2="509.5" y2="735" stroke="#111" stroke-width="2.3" stroke-dasharray="5.6 5.5"/>
<text transform="translate(419.3,574.4) scale(0.91,1)" font-size="10.78" text-anchor="middle" fill="#b84444" >Normal cells</text>
<text transform="translate(595.9,574.8) scale(0.91,1)" font-size="10.78" text-anchor="middle" fill="#4a72c4" >Cancer cells</text>
<rect x="395.3" y="642.2" width="31.899999999999977" height="14.699999999999932" rx="7.349999999999966" fill="#f5f0fb" stroke="#9a70c2" stroke-width="1"/>
<text transform="translate(410.85,653.4) scale(0.91,1)" font-size="10.78" text-anchor="middle" fill="#222" >CDK6</text>
<ellipse cx="430.8" cy="638.8" rx="7.1" ry="8.6" fill="#f5c733" stroke="#8a6a20" stroke-width="0.9"/>
<text transform="translate(430.8,642.7) scale(0.91,1)" font-size="11.0" text-anchor="middle" fill="#111" >P</text>
<line x1="414.9" y1="666.6" x2="414.9" y2="680" stroke="#111" stroke-width="1.2"/>
<path d="M412.2 679L414.9 685L417.59999999999997 679Z" fill="#111"/>
<polyline points="374.40,710.00 374.42,710.55 374.44,711.08 374.49,711.58 374.58,712.03 374.71,712.41 374.90,712.72 375.14,712.94 375.45,713.07 375.83,713.10 376.28,713.03 376.79,712.87 377.37,712.61 378.01,712.28 378.69,711.87 379.42,711.40 380.18,710.89 380.96,710.34 381.74,709.79 382.53,709.25 383.29,708.73 384.03,708.25 384.73,707.82 385.38,707.46 385.97,707.19 386.50,707.00 386.96,706.91 387.36,706.92 387.69,707.02 387.95,707.22 388.15,707.50 388.29,707.87 388.39,708.30 388.45,708.79 388.48,709.31 388.50,709.86 388.51,710.41 388.53,710.95 388.58,711.46 388.66,711.92 388.77,712.32 388.95,712.65 389.17,712.89 389.47,713.04 389.83,713.10 390.26,713.06 390.76,712.92 391.32,712.68 391.94,712.37 392.62,711.97 393.34,711.52 394.09,711.02 394.86,710.48 395.65,709.93 396.43,709.38 397.20,708.85 397.95,708.36 398.66,707.92 399.32,707.55 399.93,707.25 400.47,707.04 400.95,706.92 401.37,706.90 401.71,706.98 401.99,707.16 402.20,707.42 402.36,707.77 402.47,708.19 402.54,708.66 402.57,709.18 402.59,709.72 402.61,710.28 402.63,710.82 402.66,711.34 402.73,711.81 402.84,712.23 403.00,712.58 403.21,712.84 403.49,713.02 403.83,713.10 404.25,713.08 404.73,712.96 405.27,712.75 405.88,712.45 406.54,712.08 407.25,711.64 408.00,711.15 408.77,710.62 409.55,710.07 410.34,709.52 411.11,708.98 411.86,708.48 412.58,708.03 413.26,707.63 413.88,707.32 414.44,707.08 414.94,706.94 415.37,706.90 415.73,706.96 416.03,707.11 416.25,707.35" fill="none" stroke="#d22c2c" stroke-width="1.3" stroke-linejoin="round"/>
<polyline points="374.40,710.00 375.18,709.45 375.96,708.92 376.71,708.42 377.42,707.97 378.09,707.59 378.70,707.28 379.26,707.06 379.75,706.93 380.17,706.90 380.52,706.97 380.81,707.13 381.03,707.39 381.19,707.72 381.31,708.13 381.38,708.60 381.42,709.11 381.44,709.66 381.46,710.21 381.47,710.75 381.51,711.27 381.57,711.75 381.67,712.18 381.82,712.54 382.03,712.81 382.30,713.00 382.64,713.09 383.04,713.08 383.51,712.98 384.05,712.78 384.65,712.50 385.31,712.13 386.01,711.70 386.75,711.21 387.52,710.69 388.30,710.14 389.09,709.59 389.87,709.05 390.62,708.54 391.34,708.08 392.03,707.68 392.65,707.35 393.23,707.11 393.73,706.96 394.17,706.90 394.54,706.94 394.84,707.08 395.08,707.32 395.26,707.63 395.38,708.03 395.46,708.48 395.51,708.98 395.54,709.52 395.55,710.07 395.57,710.62 395.60,711.15 395.65,711.64 395.74,712.08 395.88,712.45 396.07,712.75 396.33,712.96 396.65,713.08 397.03,713.10 397.49,713.02 398.01,712.84 398.60,712.58 399.24,712.23 399.93,711.81 400.66,711.34 401.43,710.82 402.21,710.28 402.99,709.72 403.77,709.18 404.54,708.66 405.27,708.19 405.96,707.77 406.60,707.42 407.19,707.16 407.71,706.98 408.17,706.90 408.55,706.92 408.87,707.04 409.13,707.25 409.32,707.55 409.46,707.92 409.55,708.36 409.60,708.85 409.63,709.38 409.65,709.93 409.66,710.48 409.69,711.02 409.74,711.52 409.82,711.97 409.94,712.37 410.12,712.68 410.36,712.92 410.66,713.06 411.03,713.10 411.47,713.04 411.97,712.89 412.55,712.65" fill="none" stroke="#ee5a5a" stroke-width="1.3" stroke-linejoin="round"/>
<polyline points="414.70,710.00 414.72,710.55 414.74,711.08 414.79,711.58 414.88,712.03 415.01,712.41 415.20,712.72 415.44,712.94 415.75,713.07 416.13,713.10 416.58,713.03 417.09,712.87 417.67,712.61 418.31,712.28 418.99,711.87 419.72,711.40 420.48,710.89 421.26,710.34 422.04,709.79 422.83,709.25 423.59,708.73 424.33,708.25 425.03,707.82 425.68,707.46 426.27,707.19 426.80,707.00 427.26,706.91 427.66,706.92 427.99,707.02 428.25,707.22 428.45,707.50 428.59,707.87 428.69,708.30 428.75,708.79 428.78,709.31 428.80,709.86 428.81,710.41 428.83,710.95 428.88,711.46 428.96,711.92 429.07,712.32 429.25,712.65 429.47,712.89 429.77,713.04 430.13,713.10 430.56,713.06 431.06,712.92 431.62,712.68 432.24,712.37 432.92,711.97 433.64,711.52 434.39,711.02 435.16,710.48 435.95,709.93 436.73,709.38 437.50,708.85 438.25,708.36 438.96,707.92 439.62,707.55 440.23,707.25 440.77,707.04 441.25,706.92 441.67,706.90 442.01,706.98 442.29,707.16 442.50,707.42 442.66,707.77 442.77,708.19 442.84,708.66 442.87,709.18 442.89,709.72 442.91,710.28 442.93,710.82 442.96,711.34 443.03,711.81 443.14,712.23 443.30,712.58 443.51,712.84 443.79,713.02 444.13,713.10 444.55,713.08 445.03,712.96 445.57,712.75 446.18,712.45 446.84,712.08 447.55,711.64 448.30,711.15 449.07,710.62 449.85,710.07 450.64,709.52 451.41,708.98 452.16,708.48 452.88,708.03 453.56,707.63 454.18,707.32 454.74,707.08" fill="none" stroke="#1f5a6a" stroke-width="1.3" stroke-linejoin="round"/>
<polyline points="414.70,710.00 415.48,709.45 416.26,708.92 417.01,708.42 417.72,707.97 418.39,707.59 419.00,707.28 419.56,707.06 420.05,706.93 420.47,706.90 420.82,706.97 421.11,707.13 421.33,707.39 421.49,707.72 421.61,708.13 421.68,708.60 421.72,709.11 421.74,709.66 421.76,710.21 421.77,710.75 421.81,711.27 421.87,711.75 421.97,712.18 422.12,712.54 422.33,712.81 422.60,713.00 422.94,713.09 423.34,713.08 423.81,712.98 424.35,712.78 424.95,712.50 425.61,712.13 426.31,711.70 427.05,711.21 427.82,710.69 428.60,710.14 429.39,709.59 430.17,709.05 430.92,708.54 431.64,708.08 432.33,707.68 432.95,707.35 433.53,707.11 434.03,706.96 434.47,706.90 434.84,706.94 435.14,707.08 435.38,707.32 435.56,707.63 435.68,708.03 435.76,708.48 435.81,708.98 435.84,709.52 435.85,710.07 435.87,710.62 435.90,711.15 435.95,711.64 436.04,712.08 436.18,712.45 436.37,712.75 436.63,712.96 436.95,713.08 437.33,713.10 437.79,713.02 438.31,712.84 438.90,712.58 439.54,712.23 440.23,711.81 440.96,711.34 441.73,710.82 442.51,710.28 443.29,709.72 444.07,709.18 444.84,708.66 445.57,708.19 446.26,707.77 446.90,707.42 447.49,707.16 448.01,706.98 448.47,706.90 448.85,706.92 449.17,707.04 449.43,707.25 449.62,707.55 449.76,707.92 449.85,708.36 449.90,708.85 449.93,709.38 449.95,709.93 449.96,710.48 449.99,711.02 450.04,711.52 450.12,711.97 450.24,712.37 450.42,712.68 450.66,712.92" fill="none" stroke="#4a8a9a" stroke-width="1.3" stroke-linejoin="round"/>
<ellipse cx="398.6" cy="700.8" rx="11.5" ry="7.3" fill="#f1d9b9" stroke="#a3825c" stroke-width="0.9"/>
<text transform="translate(399.4,704) scale(0.91,1)" font-size="10.12" text-anchor="middle" fill="#222" >RB1</text>
<path d="M416.6 709.5V692.4H441.2" fill="none" stroke="#2a474e" stroke-width="1.8"/>
<path d="M440.2 689.0L446.2 692.4L440.2 695.8Z" fill="#2a474e"/>
<path d="M427 687.8L436.6 697.4M436.6 687.8L427 697.4" stroke="#c44" stroke-width="1.5"/>
<text transform="translate(393,725.7) scale(0.91,1)" font-size="10.89" text-anchor="start" fill="#222" >Target Genes</text>
<text transform="translate(336.6,728.7) scale(0.91,1)" font-size="10.89" text-anchor="start" fill="#222" >Nucleus</text>
<rect x="514.9" y="587.8" width="36.39999999999998" height="15.700000000000045" rx="7.850000000000023" fill="#c9ece8" stroke="#4c8ad0" stroke-width="1"/>
<text transform="translate(532.7,599.47) scale(0.91,1)" font-size="10.78" text-anchor="middle" fill="#222" >PIAS4</text>
<line x1="530.5" y1="606.7" x2="530.5" y2="618.5" stroke="#111" stroke-width="1.2"/>
<path d="M527.8 617.5L530.5 623.5L533.2 617.5Z" fill="#111"/>
<rect x="518.1" y="632.4" width="30.5" height="14.0" rx="7.0" fill="#f5f0fb" stroke="#9a70c2" stroke-width="1"/>
<text transform="translate(532.95,643.22) scale(0.91,1)" font-size="10.78" text-anchor="middle" fill="#222" >CDK6</text>
<ellipse cx="518.7" cy="626.8" rx="7.6" ry="7.6" fill="#c9ece8" stroke="#8a6a4a" stroke-width="0.9"/>
<text transform="translate(518.7,630.7) scale(0.91,1)" font-size="11.0" text-anchor="middle" fill="#111" >S</text>
<line x1="530.5" y1="655.3" x2="530.5" y2="667.9" stroke="#111" stroke-width="1.2"/>
<path d="M527.8 666.9L530.5 672.9L533.2 666.9Z" fill="#111"/>
<ellipse cx="531.8" cy="691.8" rx="11.5" ry="6.8" fill="#f1d9b9" stroke="#a3825c" stroke-width="0.9"/>
<text transform="translate(532.2,695.1) scale(0.91,1)" font-size="10.12" text-anchor="middle" fill="#222" >RB1</text>
<ellipse cx="541.9" cy="679.6" rx="7.1" ry="8.4" fill="#f5c733" stroke="#8a6a20" stroke-width="0.9"/>
<text transform="translate(541.9,683.5) scale(0.91,1)" font-size="11.0" text-anchor="middle" fill="#111" >P</text>
<polyline points="512.20,709.30 512.22,709.85 512.24,710.38 512.29,710.88 512.38,711.33 512.51,711.71 512.70,712.02 512.94,712.24 513.25,712.37 513.63,712.40 514.08,712.33 514.59,712.17 515.17,711.91 515.81,711.58 516.49,711.17 517.22,710.70 517.98,710.19 518.76,709.64 519.54,709.09 520.33,708.55 521.09,708.03 521.83,707.55 522.53,707.12 523.18,706.76 523.77,706.49 524.30,706.30 524.76,706.21 525.16,706.22 525.49,706.32 525.75,706.52 525.95,706.80 526.09,707.17 526.19,707.60 526.25,708.09 526.28,708.61 526.30,709.16 526.31,709.71 526.33,710.25 526.38,710.76 526.46,711.22 526.57,711.62 526.75,711.95 526.97,712.19 527.27,712.34 527.63,712.40 528.06,712.36 528.56,712.22 529.12,711.98 529.74,711.67 530.42,711.27 531.14,710.82 531.89,710.32 532.66,709.78 533.45,709.23 534.23,708.68 535.00,708.15 535.75,707.66 536.46,707.22 537.12,706.85 537.73,706.55 538.27,706.34 538.75,706.22 539.17,706.20 539.51,706.28 539.79,706.46 540.00,706.72 540.16,707.07 540.27,707.49 540.34,707.96 540.37,708.48 540.39,709.02 540.41,709.58 540.43,710.12 540.46,710.64 540.53,711.11 540.64,711.53 540.80,711.88 541.01,712.14 541.29,712.32 541.63,712.40 542.05,712.38 542.53,712.26 543.07,712.05 543.68,711.75 544.34,711.38 545.05,710.94 545.80,710.45 546.57,709.92 547.35,709.37 548.14,708.82 548.91,708.28 549.66,707.78 550.38,707.33 551.06,706.93 551.68,706.62 552.24,706.38 552.74,706.24 553.17,706.20 553.53,706.26 553.83,706.41 554.05,706.65 554.23,706.98 554.34,707.38 554.42,707.84 554.47,708.35" fill="none" stroke="#d22c2c" stroke-width="1.3" stroke-linejoin="round"/>
<polyline points="512.20,709.30 512.98,708.75 513.76,708.22 514.51,707.72 515.22,707.27 515.89,706.89 516.50,706.58 517.06,706.36 517.55,706.23 517.97,706.20 518.32,706.27 518.61,706.43 518.83,706.69 518.99,707.02 519.11,707.43 519.18,707.90 519.22,708.41 519.24,708.96 519.26,709.51 519.27,710.05 519.31,710.57 519.37,711.05 519.47,711.48 519.62,711.84 519.83,712.11 520.10,712.30 520.44,712.39 520.84,712.38 521.31,712.28 521.85,712.08 522.45,711.80 523.11,711.43 523.81,711.00 524.55,710.51 525.32,709.99 526.10,709.44 526.89,708.89 527.67,708.35 528.42,707.84 529.14,707.38 529.83,706.98 530.45,706.65 531.03,706.41 531.53,706.26 531.97,706.20 532.34,706.24 532.64,706.38 532.88,706.62 533.06,706.93 533.18,707.33 533.26,707.78 533.31,708.28 533.34,708.82 533.35,709.37 533.37,709.92 533.40,710.45 533.45,710.94 533.54,711.38 533.68,711.75 533.87,712.05 534.13,712.26 534.45,712.38 534.83,712.40 535.29,712.32 535.81,712.14 536.40,711.88 537.04,711.53 537.73,711.11 538.46,710.64 539.23,710.12 540.01,709.58 540.79,709.02 541.57,708.48 542.34,707.96 543.07,707.49 543.76,707.07 544.40,706.72 544.99,706.46 545.51,706.28 545.97,706.20 546.35,706.22 546.67,706.34 546.93,706.55 547.12,706.85 547.26,707.22 547.35,707.66 547.40,708.15 547.43,708.68 547.45,709.23 547.46,709.78 547.49,710.32 547.54,710.82 547.62,711.27 547.74,711.67 547.92,711.98 548.16,712.22 548.46,712.36 548.83,712.40 549.27,712.34 549.77,712.19 550.35,711.95 550.97,711.62 551.66,711.22 552.38,710.76 553.13,710.25" fill="none" stroke="#ee5a5a" stroke-width="1.3" stroke-linejoin="round"/>
<polyline points="554.00,709.30 554.02,709.85 554.04,710.38 554.09,710.88 554.18,711.33 554.31,711.71 554.50,712.02 554.74,712.24 555.05,712.37 555.43,712.40 555.88,712.33 556.39,712.17 556.97,711.91 557.61,711.58 558.29,711.17 559.02,710.70 559.78,710.19 560.56,709.64 561.34,709.09 562.13,708.55 562.89,708.03 563.63,707.55 564.33,707.12 564.98,706.76 565.57,706.49 566.10,706.30 566.56,706.21 566.96,706.22 567.29,706.32 567.55,706.52 567.75,706.80 567.89,707.17 567.99,707.60 568.05,708.09 568.08,708.61 568.10,709.16 568.11,709.71 568.13,710.25 568.18,710.76 568.26,711.22 568.37,711.62 568.55,711.95 568.77,712.19 569.07,712.34 569.43,712.40 569.86,712.36 570.36,712.22 570.92,711.98 571.54,711.67 572.22,711.27 572.94,710.82 573.69,710.32 574.46,709.78 575.25,709.23 576.03,708.68 576.80,708.15 577.55,707.66 578.26,707.22 578.92,706.85 579.53,706.55 580.07,706.34 580.55,706.22 580.97,706.20 581.31,706.28 581.59,706.46 581.80,706.72 581.96,707.07 582.07,707.49 582.14,707.96 582.17,708.48 582.19,709.02 582.21,709.58 582.23,710.12 582.26,710.64 582.33,711.11 582.44,711.53 582.60,711.88 582.81,712.14 583.09,712.32 583.43,712.40 583.85,712.38 584.33,712.26 584.87,712.05 585.48,711.75 586.14,711.38 586.85,710.94 587.60,710.45 588.37,709.92 589.15,709.37 589.94,708.82 590.71,708.28 591.46,707.78" fill="none" stroke="#1f5a6a" stroke-width="1.3" stroke-linejoin="round"/>
<polyline points="554.00,709.30 554.78,708.75 555.56,708.22 556.31,707.72 557.02,707.27 557.69,706.89 558.30,706.58 558.86,706.36 559.35,706.23 559.77,706.20 560.12,706.27 560.41,706.43 560.63,706.69 560.79,707.02 560.91,707.43 560.98,707.90 561.02,708.41 561.04,708.96 561.06,709.51 561.07,710.05 561.11,710.57 561.17,711.05 561.27,711.48 561.42,711.84 561.63,712.11 561.90,712.30 562.24,712.39 562.64,712.38 563.11,712.28 563.65,712.08 564.25,711.80 564.91,711.43 565.61,711.00 566.35,710.51 567.12,709.99 567.90,709.44 568.69,708.89 569.47,708.35 570.22,707.84 570.94,707.38 571.63,706.98 572.25,706.65 572.83,706.41 573.33,706.26 573.77,706.20 574.14,706.24 574.44,706.38 574.68,706.62 574.86,706.93 574.98,707.33 575.06,707.78 575.11,708.28 575.14,708.82 575.15,709.37 575.17,709.92 575.20,710.45 575.25,710.94 575.34,711.38 575.48,711.75 575.67,712.05 575.93,712.26 576.25,712.38 576.63,712.40 577.09,712.32 577.61,712.14 578.20,711.88 578.84,711.53 579.53,711.11 580.26,710.64 581.03,710.12 581.81,709.58 582.59,709.02 583.37,708.48 584.14,707.96 584.87,707.49 585.56,707.07 586.20,706.72 586.79,706.46 587.31,706.28 587.77,706.20 588.15,706.22 588.47,706.34 588.73,706.55 588.92,706.85 589.06,707.22 589.15,707.66 589.20,708.15 589.23,708.68 589.25,709.23 589.26,709.78 589.29,710.32 589.34,710.82" fill="none" stroke="#4a8a9a" stroke-width="1.3" stroke-linejoin="round"/>
<path d="M555.4 709.5V692.2H580.5" fill="none" stroke="#2a474e" stroke-width="1.8"/>
<path d="M579.5 688.8000000000001L585.5 692.2L579.5 695.6Z" fill="#2a474e"/>
<rect x="582.2" y="656.4" width="32.5" height="15.300000000000068" rx="7.650000000000034" fill="#d6daf2" stroke="#4a5a9a" stroke-width="1"/>
<text transform="translate(598.05,667.3) scale(0.91,1)" font-size="10.67" text-anchor="middle" fill="#222" >E2F1</text>
<rect x="586.2" y="672.5" width="32.5" height="13.200000000000045" rx="6.600000000000023" fill="#fcf6d3" stroke="#b0a050" stroke-width="1"/>
<text transform="translate(602.05,682.1) scale(0.91,1)" font-size="10.67" text-anchor="middle" fill="#222" >CDK1</text>
<rect x="585" y="686.6" width="33.700000000000045" height="14.399999999999977" rx="7.199999999999989" fill="#efb3a9" stroke="#a07060" stroke-width="1"/>
<text transform="translate(601.45,696.6) scale(0.91,1)" font-size="10.67" text-anchor="middle" fill="#222" >CCNA2</text>
<line x1="619.2" y1="695" x2="627" y2="695" stroke="#222" stroke-width="1.8"/>
<path d="M626 690.8L632.5 695L626 699.2Z" fill="#222"/>
<path d="M674.95 694.19A15.5 18.9 0 0 1 645.40 686.20" fill="none" stroke="#cfe8ec" stroke-width="5.6"/>
<path d="M645.40 686.20A15.5 18.9 0 0 1 656.89 667.94" fill="none" stroke="#f2b0b0" stroke-width="5.6"/>
<path d="M656.89 667.94A15.5 18.9 0 0 1 671.27 672.15" fill="none" stroke="#c4dcee" stroke-width="5.6"/>
<path d="M671.27 672.15A15.5 18.9 0 0 1 674.95 694.19" fill="none" stroke="#d7a7d4" stroke-width="5.6"/>
<path d="M642.60 686.20L645.40 682.70L648.20 686.20Z" fill="#cfe8ec"/>
<path d="M677.49 695.37L673.70 697.46L672.41 693.00Z" fill="#d7a7d4"/>
<path d="M673.15 670.07L673.63 674.74L669.40 674.24Z" fill="#c4dcee"/>
<text transform="translate(662.1,670.6) scale(0.91,1)" font-size="10.56" text-anchor="middle" fill="#222" >G2</text>
<text transform="translate(646.7,679.7) scale(0.91,1)" font-size="10.56" text-anchor="middle" fill="#222" >S</text>
<text transform="translate(675.6,685) scale(0.91,1)" font-size="10.56" text-anchor="middle" fill="#222" >M</text>
<text transform="translate(659.7,707) scale(0.91,1)" font-size="10.56" text-anchor="middle" fill="#222" >G1</text>
<path d="M652.1 688.5L643.3 693.4L648 705.4L637.6 711.8" fill="none" stroke="#b04545" stroke-width="0.9"/>
<text transform="translate(533.2,725.5) scale(0.91,1)" font-size="10.89" text-anchor="start" fill="#222" >Target Genes</text>
<text transform="translate(607.9,727.9) scale(0.91,1)" font-size="10.89" text-anchor="start" fill="#222" >G1/S Checkpoint</text>
</svg>
</body></html>
